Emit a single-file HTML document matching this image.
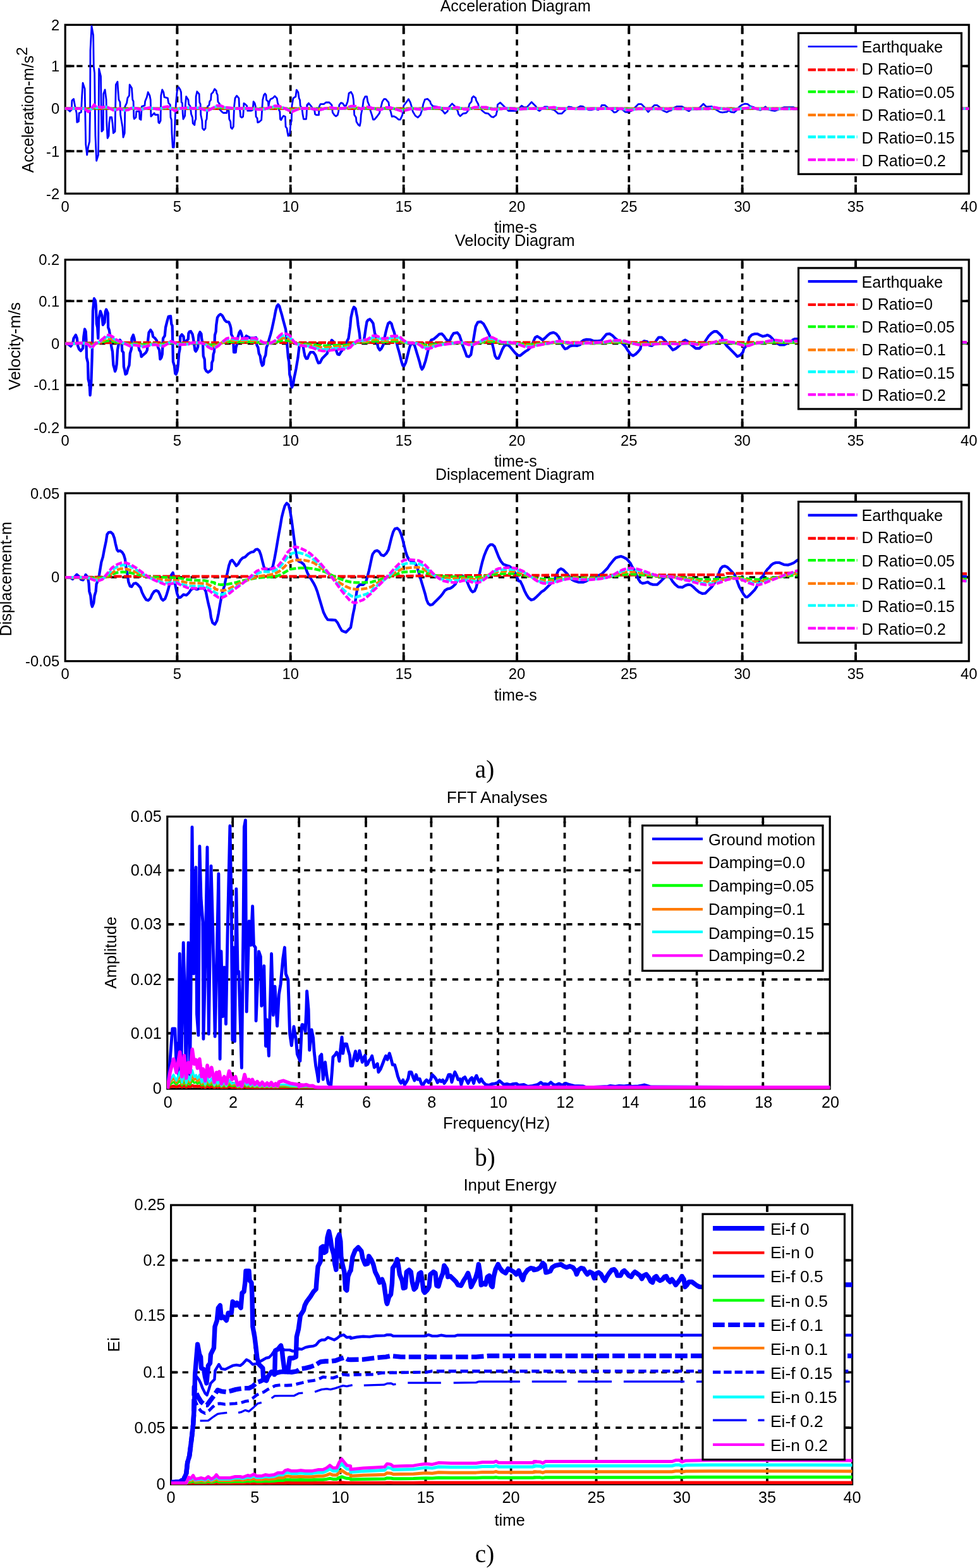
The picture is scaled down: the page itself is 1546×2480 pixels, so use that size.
<!DOCTYPE html>
<html lang="en">
<head>
<meta charset="utf-8">
<title>Seismic response diagrams</title>
<style>
html,body{margin:0;padding:0;background:#fff;}
body{width:1546px;height:2480px;overflow:hidden;}
svg{display:block;}
text{font-family:"Liberation Sans", Arial, Helvetica, sans-serif;fill:#000;}
.g{stroke:#000;stroke-width:3.7;fill:none;}
.t{stroke:#000;stroke-width:3.7;fill:none;}
.b{stroke:#000;stroke-width:3.2;fill:none;}
.lb{stroke:#000;stroke-width:3.2;fill:#fff;}
.sf{font-family:"Liberation Serif", "Times New Roman", serif;}
.cv polyline{fill:none;stroke-linejoin:round;stroke-linecap:butt;}
</style>
</head>
<body>
<svg width="1546" height="2480" viewBox="0 0 1546 2480" role="img" aria-label="Seismic response diagrams">
<rect width="1546" height="2480" fill="#fff"/>
<defs>
<clipPath id="ca1"><rect x="102.4" y="38.5" width="1431.6" height="268.5"/></clipPath>
<clipPath id="ca2"><rect x="102.4" y="410" width="1431.6" height="267.1"/></clipPath>
<clipPath id="ca3"><rect x="102.4" y="779.3" width="1431.6" height="267.2"/></clipPath>
<clipPath id="cb"><rect x="264" y="1290.7" width="1050" height="432.1"/></clipPath>
<clipPath id="cc"><rect x="269.8" y="1905.2" width="1079.6" height="443.2"/></clipPath>
</defs>
<g class="ax">
<line x1="280.4" y1="306.2" x2="280.4" y2="39.3" class="g" stroke-dasharray="9.3 8.74" stroke-dashoffset="0"/>
<line x1="459.7" y1="306.2" x2="459.7" y2="39.3" class="g" stroke-dasharray="9.3 8.74" stroke-dashoffset="0"/>
<line x1="638.7" y1="306.2" x2="638.7" y2="39.3" class="g" stroke-dasharray="9.3 8.74" stroke-dashoffset="0"/>
<line x1="818" y1="306.2" x2="818" y2="39.3" class="g" stroke-dasharray="9.3 8.74" stroke-dashoffset="0"/>
<line x1="995.3" y1="306.2" x2="995.3" y2="39.3" class="g" stroke-dasharray="9.3 8.74" stroke-dashoffset="0"/>
<line x1="1174.6" y1="306.2" x2="1174.6" y2="39.3" class="g" stroke-dasharray="9.3 8.74" stroke-dashoffset="0"/>
<line x1="1354" y1="306.2" x2="1354" y2="39.3" class="g" stroke-dasharray="9.3 8.74" stroke-dashoffset="0"/>
<line x1="103.2" y1="239.1" x2="1533.2" y2="239.1" class="g" stroke-dasharray="9.3 8.74" stroke-dashoffset="0"/>
<line x1="103.2" y1="171.7" x2="1533.2" y2="171.7" class="g" stroke-dasharray="9.3 8.74" stroke-dashoffset="0"/>
<line x1="103.2" y1="104.5" x2="1533.2" y2="104.5" class="g" stroke-dasharray="9.3 8.74" stroke-dashoffset="0"/>
</g>
<g class="fr">
<line x1="280.4" y1="306.2" x2="280.4" y2="291.9" class="t"/>
<line x1="280.4" y1="39.3" x2="280.4" y2="53.6" class="t"/>
<line x1="459.7" y1="306.2" x2="459.7" y2="291.9" class="t"/>
<line x1="459.7" y1="39.3" x2="459.7" y2="53.6" class="t"/>
<line x1="638.7" y1="306.2" x2="638.7" y2="291.9" class="t"/>
<line x1="638.7" y1="39.3" x2="638.7" y2="53.6" class="t"/>
<line x1="818" y1="306.2" x2="818" y2="291.9" class="t"/>
<line x1="818" y1="39.3" x2="818" y2="53.6" class="t"/>
<line x1="995.3" y1="306.2" x2="995.3" y2="291.9" class="t"/>
<line x1="995.3" y1="39.3" x2="995.3" y2="53.6" class="t"/>
<line x1="1174.6" y1="306.2" x2="1174.6" y2="291.9" class="t"/>
<line x1="1174.6" y1="39.3" x2="1174.6" y2="53.6" class="t"/>
<line x1="1354" y1="306.2" x2="1354" y2="291.9" class="t"/>
<line x1="1354" y1="39.3" x2="1354" y2="53.6" class="t"/>
<line x1="103.2" y1="239.1" x2="117.5" y2="239.1" class="t"/>
<line x1="1533.2" y1="239.1" x2="1518.9" y2="239.1" class="t"/>
<line x1="103.2" y1="171.7" x2="117.5" y2="171.7" class="t"/>
<line x1="1533.2" y1="171.7" x2="1518.9" y2="171.7" class="t"/>
<line x1="103.2" y1="104.5" x2="117.5" y2="104.5" class="t"/>
<line x1="1533.2" y1="104.5" x2="1518.9" y2="104.5" class="t"/>
<rect x="103.2" y="39.3" width="1430" height="266.9" class="b"/>
</g>
<g class="cv" clip-path="url(#ca1)">
<polyline points="102.65,171.58 107.94,173.57 110.58,176.21 113.23,173.57 113.89,159.02 116.53,156.37 118.52,166.95 121.16,178.86 121.83,193.41 124.47,192.08 125.13,178.86 128.44,177.53 129.76,151.08 131.08,131.24 134.13,140.5 134.66,168.28 135.71,227.8 137.7,244.99 139.68,231.77 141.67,223.83 142.59,168.28 142.99,79.65 144.97,41.29 147.62,55.84 148.28,104.78 149.6,115.37 150.26,168.28 150.93,214.57 152.65,254.25 155.56,244.99 156.22,168.28 156.61,108.75 159.52,120.66 160.19,168.28 160.85,207.96 163.23,205.31 163.76,148.43 166.14,141.82 168.12,157.69 168.78,194.73 170.11,218.54 172.09,214.57 172.75,194.73 174.07,185.47 176.72,185.47 178.04,194.73 179.37,210.6 182.01,207.96 182.67,168.28 183.33,133.88 185.98,129.25 186.64,140.5 187.96,157.69 189.95,161.66 190.61,181.5 193.92,201.34 194.97,217.22 197.22,210.6 197.88,168.28 200.53,162.98 201.85,155.05 204.5,151.08 205.16,133.88 208.47,139.17 209.79,157.69 211.11,160.34 211.77,185.47 212.43,188.12 215.08,185.47 215.74,176.21 220.37,176.21 221.03,188.12 223.02,189.44 224.34,168.28 228.97,166.95 229.63,160.34 232.28,153.72 234.26,145.79 236.9,151.08 238.23,157.69 238.89,184.15 244.18,178.86 245.5,181.5 250.13,181.5 250.79,193.41 252.12,194.73 254.1,190.76 254.76,151.08 256.75,141.82 258.73,145.79 260.05,153.72 265.34,155.05 266.67,162.98 269.31,165.63 269.97,185.47 271.3,189.44 271.96,210.6 273.28,233.09 275.26,233.09 275.93,218.54 277.25,184.15 278.57,161.66 280.56,140.5 282.54,137.85 285.19,141.82 286.51,145.79 287.17,161.66 288.49,162.98 289.15,178.86 289.81,186.79 290,188.43 292.65,183.14 293.31,165.95 294.63,152.72 297.94,158.01 298.6,164.62 301.24,168.59 302.57,180.5 304.55,185.79 305.21,195.05 307.86,197.69 308.52,191.08 309.84,188.43 310.11,152.72 311.83,144.78 315.13,148.75 315.79,161.98 317.12,164.62 317.78,181.82 319.76,191.08 320.42,202.98 322.8,205.63 325.05,202.98 325.71,191.08 327.04,188.43 328.36,168.59 331.01,165.95 331.67,160.66 333.65,158.01 334.31,148.75 336.96,146.11 339.6,140.81 342.25,143.46 342.91,147.43 344.23,150.07 344.89,160.66 347.54,164.62 348.2,173.88 352.17,177.85 353.49,178.51 358.78,178.51 359.44,173.88 362.09,175.21 362.75,188.43 364.74,192.4 365.4,201.66 367.38,203.65 369.37,200.34 370.03,181.82 370.69,167.27 372.01,155.37 374.66,151.4 377.96,155.37 378.62,168.59 379.95,176.53 380.61,184.47 382.59,185.79 384.58,184.47 385.24,176.53 385.9,163.3 387.88,164.62 390.53,167.27 391.85,175.21 397.14,175.21 399.79,173.88 400.45,168.59 401.11,160.66 403.1,163.3 404.42,168.59 405.08,184.47 407.06,187.11 407.72,193.72 409.71,193.06 413.68,189.76 414.34,179.17 415.66,158.01 417.65,150.07 419.37,148.09 420.95,150.07 421.61,158.01 424.26,160.66 424.92,168.59 426.24,160.66 428.23,156.69 431.53,155.37 434.84,152.06 438.15,155.37 439.47,163.3 440.79,165.95 441.46,173.88 442.78,176.53 443.44,188.43 444.76,189.76 446.75,185.79 448.73,183.14 451.38,184.47 452.04,200.34 454.02,202.98 454.68,208.28 456.01,214.89 458.65,210.92 459.97,195.05 461.3,191.08 461.96,167.27 463.94,155.37 467.91,152.72 469.23,142.14 471.88,146.11 473.2,155.37 474.52,158.01 475.19,167.27 477.83,171.24 479.15,181.82 480.48,188.43 484.44,188.43 485.11,181.82 485.77,165.95 488.41,163.3 485.95,167.27 488.6,163.3 491.9,167.27 494.55,171.24 497.86,175.21 498.52,180.5 500.5,181.82 504.47,181.82 505.13,168.59 507.12,164.62 512.41,164.62 515.71,161.98 521.01,161.98 524.97,165.95 526.3,177.85 528.94,181.82 531.59,183.8 534.23,181.82 535.56,176.53 536.88,165.95 539.52,162.64 542.17,163.3 544.81,167.27 547.46,167.27 550.11,160.66 552.09,147.43 555.4,145.44 558.04,150.07 559.37,158.01 560.69,181.82 563.33,185.79 563.99,192.4 567.3,197.69 569.29,199.02 570.61,192.4 571.27,181.82 573.92,168.59 575.24,158.01 577.88,152.72 580.53,152.72 581.85,160.66 584.5,167.27 585.82,173.88 588.47,181.82 590.45,189.1 592.43,189.1 596.4,184.47 600.37,179.17 603.02,168.59 605,160.66 607.65,156.69 610.29,156.69 614.92,161.98 616.24,171.24 618.23,176.53 620.21,184.47 622.86,183.8 626.83,185.79 630.79,189.1 633.44,189.1 636.75,181.82 638.73,167.27 642.7,161.98 646.4,156.69 649.31,161.98 651.3,168.59 653.28,176.53 657.25,183.14 661.22,185.79 665.19,181.82 667.83,173.88 669.81,164.62 670,163.87 672.48,157.26 676.61,156.43 680.75,160.56 681.57,163.87 684.88,168 691.49,168.83 696.46,172.14 700.59,175.44 703.9,179.58 708.03,176.27 709.68,170.48 715.47,163.87 721.26,169.66 724.56,176.27 725.39,180.4 728.2,183.71 732.83,179.58 737.79,178.75 740.27,175.44 742.75,164.7 746.06,160.56 746.88,154.78 749.37,152.3 752.67,154.78 753.5,158.91 756.81,164.7 757.63,169.66 762.59,174.62 767.55,178.75 772.51,179.58 777.47,184.54 780.78,185.37 784.91,182.06 786.57,175.44 787.39,165.52 791.53,162.22 795.66,166.35 800.62,171.31 804.76,175.44 815.5,175.44 818.81,173.79 822.94,169.66 825.42,167.18 828.73,169.66 833.69,169.66 841.13,161.39 847.74,168 851.05,173.79 853.53,175.44 858.49,171.31 861.8,168.83 865.93,168.83 870.07,172.14 876.68,173.79 883.29,179.58 889.08,179.58 894.87,173.79 899.83,168.83 904.79,169.66 909.75,172.14 910,172.14 914.96,169.66 918.27,168 922.4,168.5 926.53,171.31 931.49,173.79 936.46,173.79 941.42,172.14 946.38,173.79 950.51,170.48 952.16,166.35 957.12,166.35 962.91,171.31 967.87,173.79 972,177.92 975.31,177.1 979.44,172.96 984.4,172.96 989.37,177.1 992.67,177.43 999.29,175.44 1002.59,172.14 1005.07,169.66 1010.03,164.7 1014.99,164.7 1019.95,169.66 1025.74,177.1 1030.7,171.31 1035.66,166.35 1039.79,166.35 1043.93,169.66 1047.24,173.79 1050.54,175.44 1055.17,177.43 1058.81,175.44 1062.12,174.62 1066.25,170.48 1071.21,168.33 1078.65,168.33 1082.78,170.48 1086.09,173.79 1090.22,175.78 1093.53,172.96 1103.45,172.96 1107.59,169.66 1113.04,164.2 1117.51,168.83 1126.6,168.5 1130.73,172.14 1134.87,174.62 1139,177.1 1143.13,177.92 1148.1,177.1 1150,177.1 1153.31,174.62 1156.61,177.1 1161.57,177.92 1166.53,173.79 1169.84,168.83 1174.8,165.52 1178.94,164.2 1183.07,164.7 1187.2,168 1192.99,169.66 1197.95,172.96 1202.91,174.12 1207.04,172.14 1211.18,168.83 1215.31,172.96 1221.1,174.62 1226.06,175.44 1231.02,173.79 1235.98,171.31 1240.94,169.66 1255.82,169.66 1260.78,172.14 1269.05,172.14 1533.2,171.8" stroke="#0000ff" stroke-width="2.8"/>
<polyline points="103.2,171.8 1533.2,171.8" stroke="#ff0000" stroke-width="4.3" stroke-dasharray="12.4 3.0"/>
<polyline points="102.65,171.73 130.42,171.73 134.39,171.93 139.68,173.32 143.65,172.33 148.94,169.95 152.91,171.34 158.2,170.94 162.17,171.34 167.46,170.74 172.75,171.54 179.37,172.53 184.66,172.33 189.95,171.73 196.56,172.73 203.17,172.33 209.79,171.34 216.4,171.73 223.02,172.33 229.63,171.73 236.24,171.34 242.86,171.73 252.12,172.13 258.73,171.14 265.34,170.74 270.63,171.73 277.25,172.93 282.54,171.93 287.83,171.54 290,171.71 297.94,171.23 305.87,171.83 313.81,171.31 321.75,172.23 328.36,172.82 333.65,172.03 342.91,170.44 349.52,170.44 356.14,171.23 364.07,171.43 372.01,171.83 382.59,171.71 395.82,171.71 409.05,172.23 416.98,172.23 424.92,171.43 435.5,170.44 442.12,170.64 448.73,171.43 456.67,172.62 461.96,173.42 468.57,172.43 475.19,171.71 488.41,171.71 490.58,171.71 499.84,172.23 506.46,172.43 514.39,171.71 523.65,171.23 530.26,171.71 543.49,171.71 550.11,171.23 555.4,170.64 562.01,170.64 571.27,172.03 580.53,171.04 585.82,171.23 593.76,172.03 601.69,172.43 610.95,171.23 617.57,171.31 625.5,172.03 636.08,173.02 644.02,172.43 651.96,171.71 665.19,172.23 670,172.15 679.92,171.65 691.49,171.16 703.07,171.65 712.99,171.8 722.91,171.16 736.14,172.15 741.1,172.15 751.02,171.16 759.29,171.16 769.21,171.16 779.13,172.15 789.05,172.15 798.97,171.65 808.89,171.65 818.81,172.15 828.73,171.9 843.61,171.8 855.19,171.8 876.68,171.16 884.95,171.8 909.75,171.8 910,171.9 984.4,171.8 992.67,172.4 999.29,172.5 1009.21,171.9 1121.64,171.9 1129.91,171.16 1138.17,171.65 1144.79,172 1149.75,172 1150,172 1156.61,172.4 1164.88,172.15 1174.8,171.8 1188.03,171.31 1197.95,171.9 1269.05,171.9 1533.2,171.8" stroke="#00ff00" stroke-width="4.3" stroke-dasharray="12.4 3.0" stroke-dashoffset="3"/>
<polyline points="102.65,171.68 130.42,171.68 134.39,172.04 139.68,174.59 143.65,172.77 148.94,168.41 152.91,170.95 158.2,170.23 162.17,170.95 167.46,169.86 172.75,171.32 179.37,173.14 184.66,172.77 189.95,171.68 196.56,173.5 203.17,172.77 209.79,170.95 216.4,171.68 223.02,172.77 229.63,171.68 236.24,170.95 242.86,171.68 252.12,172.41 258.73,170.59 265.34,169.86 270.63,171.68 277.25,173.86 282.54,172.04 287.83,171.32 290,171.64 297.94,170.76 305.87,171.85 313.81,170.91 321.75,172.58 328.36,173.67 333.65,172.22 342.91,169.31 349.52,169.31 356.14,170.76 364.07,171.13 372.01,171.85 382.59,171.64 395.82,171.64 409.05,172.58 416.98,172.58 424.92,171.13 435.5,169.31 442.12,169.67 448.73,171.13 456.67,173.31 461.96,174.76 468.57,172.95 475.19,171.64 488.41,171.64 490.58,171.64 499.84,172.58 506.46,172.95 514.39,171.64 523.65,170.76 530.26,171.64 543.49,171.64 550.11,170.76 555.4,169.67 562.01,169.67 571.27,172.22 580.53,170.4 585.82,170.76 593.76,172.22 601.69,172.95 610.95,170.76 617.57,170.91 625.5,172.22 636.08,174.04 644.02,172.95 651.96,171.64 665.19,172.58 670,172.44 679.92,171.53 691.49,170.62 703.07,171.53 712.99,171.8 722.91,170.62 736.14,172.44 741.1,172.44 751.02,170.62 759.29,170.62 769.21,170.62 779.13,172.44 789.05,172.44 798.97,171.53 808.89,171.53 818.81,172.44 828.73,171.99 843.61,171.8 855.19,171.8 876.68,170.62 884.95,171.8 909.75,171.8 910,171.99 984.4,171.8 992.67,172.9 999.29,173.08 1009.21,171.99 1121.64,171.99 1129.91,170.62 1138.17,171.53 1144.79,172.17 1149.75,172.17 1150,172.17 1156.61,172.9 1164.88,172.44 1174.8,171.8 1188.03,170.89 1197.95,171.99 1269.05,171.99 1533.2,171.8" stroke="#ff7a00" stroke-width="4.3" stroke-dasharray="12.4 3.0" stroke-dashoffset="6"/>
<polyline points="102.65,171.63 130.42,171.63 134.39,172.15 139.68,175.86 143.65,173.21 148.94,166.86 152.91,170.57 158.2,169.51 162.17,170.57 167.46,168.98 172.75,171.1 179.37,173.74 184.66,173.21 189.95,171.63 196.56,174.27 203.17,173.21 209.79,170.57 216.4,171.63 223.02,173.21 229.63,171.63 236.24,170.57 242.86,171.63 252.12,172.68 258.73,170.04 265.34,168.98 270.63,171.63 277.25,174.8 282.54,172.15 287.83,171.1 290,171.56 297.94,170.29 305.87,171.88 313.81,170.5 321.75,172.94 328.36,174.53 333.65,172.41 342.91,168.18 349.52,168.18 356.14,170.29 364.07,170.82 372.01,171.88 382.59,171.56 395.82,171.56 409.05,172.94 416.98,172.94 424.92,170.82 435.5,168.18 442.12,168.7 448.73,170.82 456.67,174 461.96,176.11 468.57,173.47 475.19,171.56 488.41,171.56 490.58,171.56 499.84,172.94 506.46,173.47 514.39,171.56 523.65,170.29 530.26,171.56 543.49,171.56 550.11,170.29 555.4,168.7 562.01,168.7 571.27,172.41 580.53,169.76 585.82,170.29 593.76,172.41 601.69,173.47 610.95,170.29 617.57,170.5 625.5,172.41 636.08,175.05 644.02,173.47 651.96,171.56 665.19,172.94 670,172.73 679.92,171.41 691.49,170.09 703.07,171.41 712.99,171.81 722.91,170.09 736.14,172.73 741.1,172.73 751.02,170.09 759.29,170.09 769.21,170.09 779.13,172.73 789.05,172.73 798.97,171.41 808.89,171.41 818.81,172.73 828.73,172.07 843.61,171.81 855.19,171.81 876.68,170.09 884.95,171.81 909.75,171.81 910,172.07 984.4,171.81 992.67,173.39 999.29,173.66 1009.21,172.07 1121.64,172.07 1129.91,170.09 1138.17,171.41 1144.79,172.33 1149.75,172.33 1150,172.33 1156.61,173.39 1164.88,172.73 1174.8,171.81 1188.03,170.48 1197.95,172.07 1269.05,172.07 1533.2,171.8" stroke="#00ffff" stroke-width="4.3" stroke-dasharray="12.4 3.0" stroke-dashoffset="10"/>
<polyline points="102.65,171.58 130.42,171.58 134.39,172.24 139.68,176.87 143.65,173.57 148.94,165.63 152.91,170.26 158.2,168.94 162.17,170.26 167.46,168.28 172.75,170.92 179.37,174.23 184.66,173.57 189.95,171.58 196.56,174.89 203.17,173.57 209.79,170.26 216.4,171.58 223.02,173.57 229.63,171.58 236.24,170.26 242.86,171.58 252.12,172.9 258.73,169.6 265.34,168.28 270.63,171.58 277.25,175.55 282.54,172.24 287.83,170.92 290,171.5 297.94,169.92 305.87,171.9 313.81,170.18 321.75,173.22 328.36,175.21 333.65,172.56 342.91,167.27 349.52,167.27 356.14,169.92 364.07,170.58 372.01,171.9 382.59,171.5 395.82,171.5 409.05,173.22 416.98,173.22 424.92,170.58 435.5,167.27 442.12,167.93 448.73,170.58 456.67,174.54 461.96,177.19 468.57,173.88 475.19,171.5 488.41,171.5 490.58,171.5 499.84,173.22 506.46,173.88 514.39,171.5 523.65,169.92 530.26,171.5 543.49,171.5 550.11,169.92 555.4,167.93 562.01,167.93 571.27,172.56 580.53,169.25 585.82,169.92 593.76,172.56 601.69,173.88 610.95,169.92 617.57,170.18 625.5,172.56 636.08,175.87 644.02,173.88 651.96,171.5 665.19,173.22 670,172.96 679.92,171.31 691.49,169.66 703.07,171.31 712.99,171.81 722.91,169.66 736.14,172.96 741.1,172.96 751.02,169.66 759.29,169.66 769.21,169.66 779.13,172.96 789.05,172.96 798.97,171.31 808.89,171.31 818.81,172.96 828.73,172.14 843.61,171.81 855.19,171.81 876.68,169.66 884.95,171.81 909.75,171.81 910,172.14 984.4,171.81 992.67,173.79 999.29,174.12 1009.21,172.14 1121.64,172.14 1129.91,169.66 1138.17,171.31 1144.79,172.47 1149.75,172.47 1150,172.47 1156.61,173.79 1164.88,172.96 1174.8,171.81 1188.03,170.15 1197.95,172.14 1269.05,172.14 1533.2,171.8" stroke="#ff00ff" stroke-width="4.3" stroke-dasharray="12.4 3.0"/>
</g>
<g class="tl">
<text x="103.2" y="334.9" font-size="23.78" text-anchor="middle">0</text>
<text x="280.4" y="334.9" font-size="23.78" text-anchor="middle">5</text>
<text x="459.7" y="334.9" font-size="23.78" text-anchor="middle">10</text>
<text x="638.7" y="334.9" font-size="23.78" text-anchor="middle">15</text>
<text x="818" y="334.9" font-size="23.78" text-anchor="middle">20</text>
<text x="995.3" y="334.9" font-size="23.78" text-anchor="middle">25</text>
<text x="1174.6" y="334.9" font-size="23.78" text-anchor="middle">30</text>
<text x="1354" y="334.9" font-size="23.78" text-anchor="middle">35</text>
<text x="1533.2" y="334.9" font-size="23.78" text-anchor="middle">40</text>
<text x="94.2" y="314.6" font-size="23.78" text-anchor="end">-2</text>
<text x="94.2" y="247.5" font-size="23.78" text-anchor="end">-1</text>
<text x="94.2" y="180.1" font-size="23.78" text-anchor="end">0</text>
<text x="94.2" y="112.9" font-size="23.78" text-anchor="end">1</text>
<text x="94.2" y="47.7" font-size="23.78" text-anchor="end">2</text>
</g>
<text x="815.7" y="17.8" font-size="24.9" text-anchor="middle">Acceleration Diagram</text>
<text x="815.8" y="368.3" font-size="24.9" text-anchor="middle">time-s</text>
<text x="53" y="173.75" font-size="24.9" text-anchor="middle" transform="rotate(-90 53 173.75)">Acceleration-m/s<tspan dy="-10.5" font-size="24.5">2</tspan></text>
<g class="lg">
<rect x="1263.5" y="52.4" width="257.9" height="223" class="lb"/>
<line x1="1278.6" y1="73.7" x2="1356.6" y2="73.7" stroke="#0000ff" stroke-width="2.8"/>
<text x="1363.6" y="83.1" font-size="25.1" text-anchor="start">Earthquake</text>
<line x1="1278.6" y1="110.4" x2="1356.6" y2="110.4" stroke="#ff0000" stroke-width="4.3" stroke-dasharray="12.4 3.0"/>
<text x="1363.6" y="118.2" font-size="25.1" text-anchor="start">D Ratio=0</text>
<line x1="1278.6" y1="145.1" x2="1356.6" y2="145.1" stroke="#00ff00" stroke-width="4.3" stroke-dasharray="12.4 3.0"/>
<text x="1363.6" y="154.5" font-size="25.1" text-anchor="start">D Ratio=0.05</text>
<line x1="1278.6" y1="181.8" x2="1356.6" y2="181.8" stroke="#ff7a00" stroke-width="4.3" stroke-dasharray="12.4 3.0"/>
<text x="1363.6" y="190.6" font-size="25.1" text-anchor="start">D Ratio=0.1</text>
<line x1="1278.6" y1="216.5" x2="1356.6" y2="216.5" stroke="#00ffff" stroke-width="4.3" stroke-dasharray="12.4 3.0"/>
<text x="1363.6" y="227.3" font-size="25.1" text-anchor="start">D Ratio=0.15</text>
<line x1="1278.6" y1="252.6" x2="1356.6" y2="252.6" stroke="#ff00ff" stroke-width="4.3" stroke-dasharray="12.4 3.0"/>
<text x="1363.6" y="262.6" font-size="25.1" text-anchor="start">D Ratio=0.2</text>
</g>
<g class="ax">
<line x1="280.4" y1="676.3" x2="280.4" y2="410.8" class="g" stroke-dasharray="9.3 8.74" stroke-dashoffset="0"/>
<line x1="459.7" y1="676.3" x2="459.7" y2="410.8" class="g" stroke-dasharray="9.3 8.74" stroke-dashoffset="0"/>
<line x1="638.7" y1="676.3" x2="638.7" y2="410.8" class="g" stroke-dasharray="9.3 8.74" stroke-dashoffset="0"/>
<line x1="818" y1="676.3" x2="818" y2="410.8" class="g" stroke-dasharray="9.3 8.74" stroke-dashoffset="0"/>
<line x1="995.3" y1="676.3" x2="995.3" y2="410.8" class="g" stroke-dasharray="9.3 8.74" stroke-dashoffset="0"/>
<line x1="1174.6" y1="676.3" x2="1174.6" y2="410.8" class="g" stroke-dasharray="9.3 8.74" stroke-dashoffset="0"/>
<line x1="1354" y1="676.3" x2="1354" y2="410.8" class="g" stroke-dasharray="9.3 8.74" stroke-dashoffset="0"/>
<line x1="103.2" y1="608.9" x2="1533.2" y2="608.9" class="g" stroke-dasharray="9.3 8.74" stroke-dashoffset="0"/>
<line x1="103.2" y1="543.3" x2="1533.2" y2="543.3" class="g" stroke-dasharray="9.3 8.74" stroke-dashoffset="0"/>
<line x1="103.2" y1="476.2" x2="1533.2" y2="476.2" class="g" stroke-dasharray="9.3 8.74" stroke-dashoffset="0"/>
</g>
<g class="fr">
<line x1="280.4" y1="676.3" x2="280.4" y2="662" class="t"/>
<line x1="280.4" y1="410.8" x2="280.4" y2="425.1" class="t"/>
<line x1="459.7" y1="676.3" x2="459.7" y2="662" class="t"/>
<line x1="459.7" y1="410.8" x2="459.7" y2="425.1" class="t"/>
<line x1="638.7" y1="676.3" x2="638.7" y2="662" class="t"/>
<line x1="638.7" y1="410.8" x2="638.7" y2="425.1" class="t"/>
<line x1="818" y1="676.3" x2="818" y2="662" class="t"/>
<line x1="818" y1="410.8" x2="818" y2="425.1" class="t"/>
<line x1="995.3" y1="676.3" x2="995.3" y2="662" class="t"/>
<line x1="995.3" y1="410.8" x2="995.3" y2="425.1" class="t"/>
<line x1="1174.6" y1="676.3" x2="1174.6" y2="662" class="t"/>
<line x1="1174.6" y1="410.8" x2="1174.6" y2="425.1" class="t"/>
<line x1="1354" y1="676.3" x2="1354" y2="662" class="t"/>
<line x1="1354" y1="410.8" x2="1354" y2="425.1" class="t"/>
<line x1="103.2" y1="608.9" x2="117.5" y2="608.9" class="t"/>
<line x1="1533.2" y1="608.9" x2="1518.9" y2="608.9" class="t"/>
<line x1="103.2" y1="543.3" x2="117.5" y2="543.3" class="t"/>
<line x1="1533.2" y1="543.3" x2="1518.9" y2="543.3" class="t"/>
<line x1="103.2" y1="476.2" x2="117.5" y2="476.2" class="t"/>
<line x1="1533.2" y1="476.2" x2="1518.9" y2="476.2" class="t"/>
<rect x="103.2" y="410.8" width="1430" height="265.5" class="b"/>
</g>
<g class="cv" clip-path="url(#ca2)">
<polyline points="103.31,543.68 107.94,544.34 111.9,547.65 115.21,543.02 116.53,535.08 119.84,529.79 121.83,535.08 123.15,546.98 125.13,552.28 127.78,554.92 131.08,550.95 132.41,532.43 134.13,520.53 135.71,524.5 136.38,536.4 137.04,565.5 139.02,573.44 139.68,599.89 141.67,607.83 142.59,625.03 144.31,605.19 145.63,565.5 146.3,536.4 146.96,491.43 148.94,472.25 150.93,475.56 151.85,484.81 152.91,512.59 154.23,517.88 155.29,535.08 156.22,504.66 158.86,492.09 161.51,499.37 162.83,513.92 165.48,509.95 166.8,492.75 168.12,489.44 170.77,495.4 171.16,517.88 172.75,521.85 174.07,529.79 176.06,546.98 178.04,556.24 179.37,577.41 180.95,582.7 182.01,587.33 183.33,584.02 184.66,576.08 185.98,553.6 187.96,543.02 189.95,537.72 192.59,543.02 193.25,554.92 195.24,557.57 195.9,580.05 197.22,585.34 198.54,591.96 200.53,590.63 202.51,582.7 204.5,577.41 205.82,558.89 207.8,552.28 208.47,535.08 210.85,529.79 212.43,535.08 213.76,543.02 219.05,546.98 220.37,553.6 222.35,556.24 223.68,564.18 226.32,561.53 230.95,557.57 232.94,553.6 233.6,543.02 235.58,525.82 238.23,521.85 240.87,525.82 242.2,532.43 245.5,535.08 248.15,539.05 250.13,549.63 252.12,553.6 253.44,568.15 255.42,565.5 256.75,560.21 258.07,535.08 260.71,531.11 262.04,517.88 264.68,507.3 266.67,500.69 269.97,500.03 271.3,512.59 272.62,515.24 273.28,543.02 273.94,572.12 275.93,578.73 277.25,590.63 278.57,591.96 280.56,586.67 281.88,576.08 283.2,558.89 284.52,552.28 285.19,532.43 287.83,529.13 290.48,532.43 291.14,539.05 293.78,540.37 297.75,536.4 298.41,527.14 299.92,524.66 301.9,523.99 304.55,528.62 305.87,535.24 307.2,544.5 308.52,553.76 309.84,555.74 311.83,552.43 313.15,548.47 314.47,529.95 316.46,525.32 318.44,527.96 319.1,535.24 321.08,545.82 321.75,563.02 323.73,568.31 324.39,582.86 326.38,586.83 329.02,588.81 332.33,586.83 334.71,584.18 335.24,573.6 336.96,569.63 337.62,560.37 338.94,556.4 340,529.95 341.59,524.66 342.25,514.07 343.97,502.17 346.22,498.86 348.86,496.88 351.51,498.86 353.49,502.17 355.48,506.14 358.12,508.78 362.09,509.44 364.07,514.07 365.4,519.37 366.06,528.62 368.04,532.59 369.37,541.85 370.03,557.06 372.67,557.06 373.33,549.79 375.32,543.17 376.64,532.59 378.62,525.98 380.34,523.33 381.93,527.3 383.25,532.59 383.92,541.85 386.56,541.85 387.88,533.92 389.87,531.27 393.17,533.25 395.82,534.58 402.43,534.58 405.08,533.92 406.4,545.82 408.39,549.79 409.71,559.05 411.69,563.02 413.02,572.28 415,578.23 416.98,576.24 418.04,566.98 420.29,561.69 421.61,549.79 423.6,544.5 426.24,535.24 428.23,528.62 430.21,520.69 432.2,511.43 434.18,502.17 436.16,491.59 438.15,484.31 440.13,481.67 442.12,484.31 444.1,491.59 446.08,498.2 448.07,506.14 450.05,513.41 452.04,520.69 453.36,532.59 454.68,549.79 456.01,565.66 457.33,572.28 458.25,592.12 459.97,598.73 460.63,607.99 461.96,612.62 463.94,607.99 465.26,598.73 467.25,589.47 468.57,582.86 469.89,574.92 471.48,565.66 472.54,556.4 473.86,545.82 477.83,544.5 479.81,548.47 481.14,556.4 482.46,563.02 484.44,566.98 486.61,566.98 488.6,561.69 491.24,557.06 495.87,557.06 499.18,561.69 501.83,569.63 503.81,574.26 506.46,573.6 509.76,566.98 513.73,563.02 517.7,559.05 519.68,552.43 522.33,544.5 524.97,537.88 527.62,540.53 529.6,545.82 532.25,555.08 534.23,560.37 536.88,561.03 539.52,556.4 542.83,552.43 546.14,545.82 548.78,540.53 551.43,535.24 552.75,525.98 554.07,516.72 555.4,502.17 558.04,490.26 560.03,485.63 562.67,488.28 563.99,495.56 565.32,502.17 566.64,514.07 568.62,525.98 569.95,537.88 572.59,540.53 575.9,537.88 577.22,529.95 578.54,520.69 580.53,508.78 582.51,506.14 585.16,504.81 587.8,507.46 590.45,511.43 591.77,519.37 593.1,527.3 595.08,532.59 596.4,541.85 598.39,549.79 601.03,553.76 603.68,551.11 606.32,545.82 608.31,535.24 610.29,525.98 612.28,518.04 614.26,511.43 616.9,509.44 619.55,512.09 621.53,519.37 623.52,524.66 625.5,532.59 627.49,541.85 629.47,549.79 631.46,556.4 633.44,564.34 635.42,572.28 637.41,578.23 639.39,578.89 642.04,573.6 644.02,565.66 646.01,557.72 647.99,549.79 649.97,544.5 653.28,543.17 655.93,545.82 657.91,552.43 659.89,559.05 661.88,565.66 663.86,572.28 665.85,580.21 667.83,584.18 670,580.78 673.31,570.86 676.61,557.63 679.92,542.75 682.4,537.79 686.53,536.14 691.49,532 694.8,528.7 698.94,527.87 702.24,531.18 705.55,536.14 708.86,539.44 712.16,537.79 714.64,532 717.95,527.04 723.74,526.22 727.04,530.35 729.52,537.79 732,546.06 735.31,554.33 738.62,563.42 741.92,564.25 745.23,560.94 746.88,551.02 749.37,536.14 751.02,526.22 752.67,516.3 755.98,509.68 760.94,508.86 765.07,512.16 768.38,517.95 771.69,524.56 774.99,531.18 778.3,541.1 780.78,551.02 783.26,562.59 785.74,566.73 789.05,566.73 791.53,560.94 794.83,552.67 798.14,546.88 802.28,545.23 806.41,547.71 810.54,552.67 814.68,557.63 818.81,561.77 822.94,562.59 827.08,559.29 831.21,555.98 835.34,553.5 839.48,549.37 843.61,541.1 846.92,533.66 850.22,532 854.36,534.48 858.49,537.79 862.63,534.48 866.76,530.35 870.89,527.04 875.85,525.89 879.99,527.87 884.12,532.83 887.43,541.1 890.73,547.71 894.04,551.85 897.35,551.02 901.48,547.71 906.44,546.39 913.06,546.88 918.02,545.23 918.27,541.92 923.23,538.12 928.19,536.96 934.8,537.46 939.76,539.44 946.38,539.44 951.34,538.62 955.47,533.66 959.6,528.7 964.56,527.87 968.7,530.35 973.66,535.31 979.44,539.44 984.4,542.75 989.37,547.71 993.5,554.33 997.63,560.11 1001.77,562.59 1005.9,560.11 1010.03,555.98 1013.34,551.85 1014.99,542.75 1019.13,539.44 1024.09,540.27 1027.39,546.06 1031.53,546.88 1035.66,543.58 1038.97,537.79 1042.28,533.66 1047.24,533.66 1052.2,538.62 1057.16,544.4 1061.29,549.37 1064.6,553.5 1068.73,551.85 1072.86,548.54 1077,544.4 1081.13,539.44 1084.44,537.79 1088.57,540.27 1092.71,544.4 1096.84,547.71 1100.97,551.02 1106.76,551.02 1110.89,546.88 1115.03,541.1 1118.33,536.14 1121.64,531.18 1125.77,527.04 1129.91,524.23 1134.04,524.23 1138.17,527.87 1142.31,532 1143.96,539.44 1148.1,544.4 1150,546.88 1154.96,551.85 1159.92,556.81 1164.05,560.94 1166.53,563.92 1171.49,561.77 1175.63,556.81 1177.28,551.02 1180.59,547.71 1183.9,541.1 1185.55,533.66 1189.68,529.52 1193.82,528.2 1198.78,528.2 1202.91,530.35 1207.04,532 1211.18,531.18 1214.48,529.85 1218.62,532 1221.92,535.31 1225.23,539.44 1229.37,542.75 1233.5,545.23 1240.94,545.23 1245.9,542.75 1250.86,541.1 1254.17,537.79 1257.47,536.14 1265.74,536.14 1400,541 1530,541.5" stroke="#0000ff" stroke-width="4.3"/>
<polyline points="103.2,543 180,542 1530,541.5" stroke="#ff0000" stroke-width="4.3" stroke-dasharray="12.4 3.0"/>
<polyline points="103.31,543.2 117.2,543.2 126.46,542.81 134.39,543 139.68,543.6 144.97,545.39 150.26,543.4 156.88,542.21 163.49,540.62 168.78,539.23 172.75,539.04 178.04,539.83 184.66,541.42 192.59,542.41 200.53,543.6 205.82,544.39 212.43,543.8 219.05,544.2 225.66,544.79 232.28,544.39 238.89,543.8 245.5,543.6 252.12,544.2 258.73,544.39 265.34,543.2 270.63,542.01 275.93,542.61 281.22,543.6 287.83,543.6 298.41,543.4 300.58,542.97 305.87,542.66 316.46,542.66 324.39,543.45 329.68,544.84 334.97,545.63 340.26,545.23 345.56,544.24 352.17,542.26 358.78,540.67 365.4,540.27 372.01,540.75 382.59,540.75 393.17,540.67 403.76,540.59 409.05,541.27 415.66,542.46 422.28,543.05 428.89,542.85 435.5,541.66 442.12,539.48 446.08,538.49 452.7,538.49 457.99,539.08 463.28,541.47 468.57,543.25 475.19,544.04 481.8,544.24 487.94,544.64 495.87,545.23 503.81,546.23 510.42,546.62 518.36,546.62 524.97,546.23 530.26,546.03 536.88,545.83 546.14,545.83 554.07,545.04 560.69,542.85 565.98,541.66 572.59,541.47 580.53,541.27 585.82,540.27 589.79,539.48 596.4,539.48 601.69,540.27 606.98,540.87 613.6,540.47 618.89,539.68 625.5,539.48 632.12,539.68 637.41,541.27 644.02,542.66 651.96,542.85 659.89,543.05 665.19,544.04 669.15,545.04 670,545.41 676.61,545.65 683.23,545.16 691.49,544.17 703.07,543.52 712.99,543.17 724.56,542.43 732.83,542.68 741.1,543.67 749.37,543.67 757.63,542.43 765.9,540.94 772.51,540.2 779.13,540.2 785.74,541.19 794.01,542.43 805.58,542.53 815.5,542.93 823.77,543.92 832.04,544.81 840.3,544.91 848.57,544.17 856.84,543.67 868.41,542.93 878.33,542.18 886.6,541.93 896.52,542.53 908.1,542.93 918.02,542.68 919.92,543.02 926.53,542.93 943.07,542.68 956.3,542.43 967.87,541.69 979.44,541.54 989.37,541.93 999.29,542.93 1009.21,543.67 1022.43,543.67 1035.66,543.42 1048.89,543.17 1062.12,543.17 1075.34,543.42 1085.26,542.93 1095.19,543.17 1105.11,543.67 1115.03,543.67 1124.95,542.93 1134.87,541.93 1144.79,541.44 1149.75,541.54 1150,542.18 1159.92,542.53 1169.84,543.42 1178.11,544.31 1184.72,544.17 1192.99,543.17 1202.91,542.68 1211.18,542.18 1219.44,541.69 1227.71,541.44 1237.63,541.83 1249.21,541.93 1265.74,541.93 1530,542.55" stroke="#00ff00" stroke-width="4.3" stroke-dasharray="12.4 3.0" stroke-dashoffset="3"/>
<polyline points="103.31,543.37 117.2,543.37 126.46,542.64 134.39,543.01 139.68,544.1 144.97,547.37 150.26,543.74 156.88,541.55 163.49,538.64 168.78,536.1 172.75,535.73 178.04,537.19 184.66,540.1 192.59,541.92 200.53,544.1 205.82,545.56 212.43,544.46 219.05,545.19 225.66,546.28 232.28,545.56 238.89,544.46 245.5,544.1 252.12,545.19 258.73,545.56 265.34,543.37 270.63,541.19 275.93,542.28 281.22,544.1 287.83,544.1 298.41,543.74 300.58,542.95 305.87,542.37 316.46,542.37 324.39,543.82 329.68,546.37 334.97,547.82 340.26,547.1 345.56,545.28 352.17,541.64 358.78,538.73 365.4,538 372.01,538.88 382.59,538.88 393.17,538.73 403.76,538.59 409.05,539.82 415.66,542 422.28,543.1 428.89,542.73 435.5,540.55 442.12,536.55 446.08,534.73 452.7,534.73 457.99,535.82 463.28,540.19 468.57,543.46 475.19,544.91 481.8,545.28 487.94,546.01 495.87,547.1 503.81,548.92 510.42,549.64 518.36,549.64 524.97,548.92 530.26,548.55 536.88,548.19 546.14,548.19 554.07,546.73 560.69,542.73 565.98,540.55 572.59,540.19 580.53,539.82 585.82,538 589.79,536.55 596.4,536.55 601.69,538 606.98,539.09 613.6,538.37 618.89,536.91 625.5,536.55 632.12,536.91 637.41,539.82 644.02,542.37 651.96,542.73 659.89,543.1 665.19,544.91 669.15,546.73 670,547.41 676.61,547.86 683.23,546.96 691.49,545.14 703.07,543.95 712.99,543.32 724.56,541.95 732.83,542.41 741.1,544.23 749.37,544.23 757.63,541.95 765.9,539.23 772.51,537.86 779.13,537.86 785.74,539.68 794.01,541.95 805.58,542.14 815.5,542.86 823.77,544.68 832.04,546.32 840.3,546.5 848.57,545.14 856.84,544.23 868.41,542.86 878.33,541.5 886.6,541.04 896.52,542.14 908.1,542.86 918.02,542.41 919.92,543.05 926.53,542.86 943.07,542.41 956.3,541.95 967.87,540.59 979.44,540.32 989.37,541.04 999.29,542.86 1009.21,544.23 1022.43,544.23 1035.66,543.77 1048.89,543.32 1062.12,543.32 1075.34,543.77 1085.26,542.86 1095.19,543.32 1105.11,544.23 1115.03,544.23 1124.95,542.86 1134.87,541.04 1144.79,540.14 1149.75,540.32 1150,541.5 1159.92,542.14 1169.84,543.77 1178.11,545.41 1184.72,545.14 1192.99,543.32 1202.91,542.41 1211.18,541.5 1219.44,540.59 1227.71,540.14 1237.63,540.86 1249.21,541.04 1265.74,541.04 1530,542.17" stroke="#ff7a00" stroke-width="4.3" stroke-dasharray="12.4 3.0" stroke-dashoffset="6"/>
<polyline points="103.31,543.54 117.2,543.54 126.46,542.48 134.39,543.01 139.68,544.6 144.97,549.36 150.26,544.07 156.88,540.9 163.49,536.66 168.78,532.96 172.75,532.43 178.04,534.55 184.66,538.78 192.59,541.43 200.53,544.6 205.82,546.72 212.43,545.13 219.05,546.19 225.66,547.77 232.28,546.72 238.89,545.13 245.5,544.6 252.12,546.19 258.73,546.72 265.34,543.54 270.63,540.37 275.93,541.95 281.22,544.6 287.83,544.6 298.41,544.07 300.58,542.93 305.87,542.08 316.46,542.08 324.39,544.2 329.68,547.9 334.97,550.02 340.26,548.96 345.56,546.31 352.17,541.02 358.78,536.79 365.4,535.73 372.01,537 382.59,537 393.17,536.79 403.76,536.58 409.05,538.38 415.66,541.55 422.28,543.14 428.89,542.61 435.5,539.44 442.12,533.62 446.08,530.97 452.7,530.97 457.99,532.56 463.28,538.91 468.57,543.67 475.19,545.79 481.8,546.31 487.94,547.37 495.87,548.96 503.81,551.61 510.42,552.66 518.36,552.66 524.97,551.61 530.26,551.08 536.88,550.55 546.14,550.55 554.07,548.43 560.69,542.61 565.98,539.44 572.59,538.91 580.53,538.38 585.82,535.73 589.79,533.62 596.4,533.62 601.69,535.73 606.98,537.32 613.6,536.26 618.89,534.14 625.5,533.62 632.12,534.14 637.41,538.38 644.02,542.08 651.96,542.61 659.89,543.14 665.19,545.79 669.15,548.43 670,549.41 676.61,550.08 683.23,548.75 691.49,546.11 703.07,544.39 712.99,543.46 724.56,541.48 732.83,542.14 741.1,544.79 749.37,544.79 757.63,541.48 765.9,537.51 772.51,535.53 779.13,535.53 785.74,538.17 794.01,541.48 805.58,541.74 815.5,542.8 823.77,545.45 832.04,547.83 840.3,548.09 848.57,546.11 856.84,544.79 868.41,542.8 878.33,540.82 886.6,540.16 896.52,541.74 908.1,542.8 918.02,542.14 919.92,543.07 926.53,542.8 943.07,542.14 956.3,541.48 967.87,539.49 979.44,539.1 989.37,540.16 999.29,542.8 1009.21,544.79 1022.43,544.79 1035.66,544.12 1048.89,543.46 1062.12,543.46 1075.34,544.12 1085.26,542.8 1095.19,543.46 1105.11,544.79 1115.03,544.79 1124.95,542.8 1134.87,540.16 1144.79,538.83 1149.75,539.1 1150,540.82 1159.92,541.74 1169.84,544.12 1178.11,546.5 1184.72,546.11 1192.99,543.46 1202.91,542.14 1211.18,540.82 1219.44,539.49 1227.71,538.83 1237.63,539.89 1249.21,540.16 1265.74,540.16 1530,541.8" stroke="#00ffff" stroke-width="4.3" stroke-dasharray="12.4 3.0" stroke-dashoffset="10"/>
<polyline points="103.31,543.68 117.2,543.68 126.46,542.35 134.39,543.02 139.68,545 144.97,550.95 150.26,544.34 156.88,540.37 163.49,535.08 168.78,530.45 172.75,529.79 178.04,532.43 184.66,537.72 192.59,541.03 200.53,545 205.82,547.65 212.43,545.66 219.05,546.98 225.66,548.97 232.28,547.65 238.89,545.66 245.5,545 252.12,546.98 258.73,547.65 265.34,543.68 270.63,539.71 275.93,541.69 281.22,545 287.83,545 298.41,544.34 300.58,542.91 305.87,541.85 316.46,541.85 324.39,544.5 329.68,549.13 334.97,551.77 340.26,550.45 345.56,547.14 352.17,540.53 358.78,535.24 365.4,533.92 372.01,535.5 382.59,535.5 393.17,535.24 403.76,534.97 409.05,537.22 415.66,541.19 422.28,543.17 428.89,542.51 435.5,538.54 442.12,531.27 446.08,527.96 452.7,527.96 457.99,529.95 463.28,537.88 468.57,543.84 475.19,546.48 481.8,547.14 487.94,548.47 495.87,550.45 503.81,553.76 510.42,555.08 518.36,555.08 524.97,553.76 530.26,553.1 536.88,552.43 546.14,552.43 554.07,549.79 560.69,542.51 565.98,538.54 572.59,537.88 580.53,537.22 585.82,533.92 589.79,531.27 596.4,531.27 601.69,533.92 606.98,535.9 613.6,534.58 618.89,531.93 625.5,531.27 632.12,531.93 637.41,537.22 644.02,541.85 651.96,542.51 659.89,543.17 665.19,546.48 669.15,549.79 670,551.02 676.61,551.85 683.23,550.19 691.49,546.88 703.07,544.74 712.99,543.58 724.56,541.1 732.83,541.92 741.1,545.23 749.37,545.23 757.63,541.1 765.9,536.14 772.51,533.66 779.13,533.66 785.74,536.96 794.01,541.1 805.58,541.43 815.5,542.75 823.77,546.06 832.04,549.03 840.3,549.37 848.57,546.88 856.84,545.23 868.41,542.75 878.33,540.27 886.6,539.44 896.52,541.43 908.1,542.75 918.02,541.92 919.92,543.08 926.53,542.75 943.07,541.92 956.3,541.1 967.87,538.62 979.44,538.12 989.37,539.44 999.29,542.75 1009.21,545.23 1022.43,545.23 1035.66,544.4 1048.89,543.58 1062.12,543.58 1075.34,544.4 1085.26,542.75 1095.19,543.58 1105.11,545.23 1115.03,545.23 1124.95,542.75 1134.87,539.44 1144.79,537.79 1149.75,538.12 1150,540.27 1159.92,541.43 1169.84,544.4 1178.11,547.38 1184.72,546.88 1192.99,543.58 1202.91,541.92 1211.18,540.27 1219.44,538.62 1227.71,537.79 1237.63,539.11 1249.21,539.44 1265.74,539.44 1530,541.5" stroke="#ff00ff" stroke-width="4.3" stroke-dasharray="12.4 3.0"/>
</g>
<g class="tl">
<text x="103.2" y="705" font-size="23.78" text-anchor="middle">0</text>
<text x="280.4" y="705" font-size="23.78" text-anchor="middle">5</text>
<text x="459.7" y="705" font-size="23.78" text-anchor="middle">10</text>
<text x="638.7" y="705" font-size="23.78" text-anchor="middle">15</text>
<text x="818" y="705" font-size="23.78" text-anchor="middle">20</text>
<text x="995.3" y="705" font-size="23.78" text-anchor="middle">25</text>
<text x="1174.6" y="705" font-size="23.78" text-anchor="middle">30</text>
<text x="1354" y="705" font-size="23.78" text-anchor="middle">35</text>
<text x="1533.2" y="705" font-size="23.78" text-anchor="middle">40</text>
<text x="94.2" y="684.7" font-size="23.78" text-anchor="end">-0.2</text>
<text x="94.2" y="617.3" font-size="23.78" text-anchor="end">-0.1</text>
<text x="94.2" y="551.7" font-size="23.78" text-anchor="end">0</text>
<text x="94.2" y="484.6" font-size="23.78" text-anchor="end">0.1</text>
<text x="94.2" y="419.2" font-size="23.78" text-anchor="end">0.2</text>
</g>
<text x="814.7" y="389.3" font-size="25.3" text-anchor="middle">Velocity Diagram</text>
<text x="815.8" y="738.4" font-size="24.9" text-anchor="middle">time-s</text>
<text x="32.5" y="547.55" font-size="25.8" text-anchor="middle" transform="rotate(-90 32.5 547.55)">Velocity-m/s</text>
<g class="lg">
<rect x="1263.5" y="423.9" width="257.9" height="223" class="lb"/>
<line x1="1278.6" y1="445.2" x2="1356.6" y2="445.2" stroke="#0000ff" stroke-width="4.3"/>
<text x="1363.6" y="454.6" font-size="25.1" text-anchor="start">Earthquake</text>
<line x1="1278.6" y1="481.9" x2="1356.6" y2="481.9" stroke="#ff0000" stroke-width="4.3" stroke-dasharray="12.4 3.0"/>
<text x="1363.6" y="489.7" font-size="25.1" text-anchor="start">D Ratio=0</text>
<line x1="1278.6" y1="516.6" x2="1356.6" y2="516.6" stroke="#00ff00" stroke-width="4.3" stroke-dasharray="12.4 3.0"/>
<text x="1363.6" y="526" font-size="25.1" text-anchor="start">D Ratio=0.05</text>
<line x1="1278.6" y1="553.3" x2="1356.6" y2="553.3" stroke="#ff7a00" stroke-width="4.3" stroke-dasharray="12.4 3.0"/>
<text x="1363.6" y="562.1" font-size="25.1" text-anchor="start">D Ratio=0.1</text>
<line x1="1278.6" y1="588" x2="1356.6" y2="588" stroke="#00ffff" stroke-width="4.3" stroke-dasharray="12.4 3.0"/>
<text x="1363.6" y="598.8" font-size="25.1" text-anchor="start">D Ratio=0.15</text>
<line x1="1278.6" y1="624.1" x2="1356.6" y2="624.1" stroke="#ff00ff" stroke-width="4.3" stroke-dasharray="12.4 3.0"/>
<text x="1363.6" y="634.1" font-size="25.1" text-anchor="start">D Ratio=0.2</text>
</g>
<g class="ax">
<line x1="280.4" y1="1045.7" x2="280.4" y2="780.1" class="g" stroke-dasharray="9.3 8.74" stroke-dashoffset="0"/>
<line x1="459.7" y1="1045.7" x2="459.7" y2="780.1" class="g" stroke-dasharray="9.3 8.74" stroke-dashoffset="0"/>
<line x1="638.7" y1="1045.7" x2="638.7" y2="780.1" class="g" stroke-dasharray="9.3 8.74" stroke-dashoffset="0"/>
<line x1="818" y1="1045.7" x2="818" y2="780.1" class="g" stroke-dasharray="9.3 8.74" stroke-dashoffset="0"/>
<line x1="995.3" y1="1045.7" x2="995.3" y2="780.1" class="g" stroke-dasharray="9.3 8.74" stroke-dashoffset="0"/>
<line x1="1174.6" y1="1045.7" x2="1174.6" y2="780.1" class="g" stroke-dasharray="9.3 8.74" stroke-dashoffset="0"/>
<line x1="1354" y1="1045.7" x2="1354" y2="780.1" class="g" stroke-dasharray="9.3 8.74" stroke-dashoffset="0"/>
<line x1="103.2" y1="913" x2="1533.2" y2="913" class="g" stroke-dasharray="9.3 8.74" stroke-dashoffset="0"/>
</g>
<g class="fr">
<line x1="280.4" y1="1045.7" x2="280.4" y2="1031.4" class="t"/>
<line x1="280.4" y1="780.1" x2="280.4" y2="794.4" class="t"/>
<line x1="459.7" y1="1045.7" x2="459.7" y2="1031.4" class="t"/>
<line x1="459.7" y1="780.1" x2="459.7" y2="794.4" class="t"/>
<line x1="638.7" y1="1045.7" x2="638.7" y2="1031.4" class="t"/>
<line x1="638.7" y1="780.1" x2="638.7" y2="794.4" class="t"/>
<line x1="818" y1="1045.7" x2="818" y2="1031.4" class="t"/>
<line x1="818" y1="780.1" x2="818" y2="794.4" class="t"/>
<line x1="995.3" y1="1045.7" x2="995.3" y2="1031.4" class="t"/>
<line x1="995.3" y1="780.1" x2="995.3" y2="794.4" class="t"/>
<line x1="1174.6" y1="1045.7" x2="1174.6" y2="1031.4" class="t"/>
<line x1="1174.6" y1="780.1" x2="1174.6" y2="794.4" class="t"/>
<line x1="1354" y1="1045.7" x2="1354" y2="1031.4" class="t"/>
<line x1="1354" y1="780.1" x2="1354" y2="794.4" class="t"/>
<line x1="103.2" y1="913" x2="117.5" y2="913" class="t"/>
<line x1="1533.2" y1="913" x2="1518.9" y2="913" class="t"/>
<rect x="103.2" y="780.1" width="1430" height="265.6" class="b"/>
</g>
<g class="cv" clip-path="url(#ca3)">
<polyline points="103.31,913.18 111.57,913.68 114.88,915.99 118.19,912.35 121.49,908.72 124.8,911.53 128.11,916.49 131.42,917.31 133.9,913.18 135.55,909.05 138.86,913.18 140.51,922.28 141.34,935.5 143.32,942.12 144.64,955.34 145.97,959.48 148.28,953.69 149.6,942.12 151.59,935.5 152.58,923.93 155.39,917.31 157.04,909.05 158.7,899.13 160.35,889.21 162.83,880.94 165.31,867.71 167.79,856.14 169.44,845.39 171.92,842.08 175.23,841.59 178.54,844.56 181.02,851.18 182.67,859.44 185.15,869.37 186.81,871.85 190.11,871.02 193.42,873.5 195.9,877.63 197.88,884.25 199.21,895.82 201.69,909.05 203.34,920.62 205.82,927.24 208.3,928.06 211.61,923.1 214.91,922.28 218.22,924.76 222.35,929.72 224.83,937.16 228.14,943.77 231.45,948.73 234.76,949.56 238.06,946.25 240.54,940.46 243.85,935.5 247.16,933.85 250.46,935.5 252.94,940.46 255.42,947.08 257.9,949.56 261.21,947.08 263.69,940.46 266.17,932.2 268.65,922.28 270.3,910.7 273.61,905.74 276.09,915.66 277.74,927.24 280.22,938.81 282.71,945.42 286.01,944.6 290.15,940.46 295.11,941.29 299.24,937.16 302.55,932.2 306.68,930.54 311.64,932.2 316.6,930.54 322.39,929.72 325.69,935.5 327.35,943.77 329.83,955.34 332.31,965.26 333.96,976.84 336.44,985.11 339.75,987.59 340,987.59 343.31,981.8 345.79,970.22 348.27,955.34 350.25,945.42 352.4,935.5 354.88,927.24 357.36,915.66 359.84,905.74 362.32,894.17 364.8,887.55 367.28,885.9 370.59,890.03 373.9,894.99 377.2,891.69 380.51,885.9 383.82,882.59 387.95,880.94 392.91,875.98 397.04,873.5 401.18,872.67 404.48,869.37 407.46,868.54 410.27,871.02 412.75,877.63 415.23,887.55 417.38,895.82 419.37,899.95 424.33,900.78 429.29,899.95 431.77,895.82 434.25,884.25 436.73,871.02 439.21,856.14 441.19,844.56 443.34,832.99 445.82,818.11 448.3,808.19 450.78,799.92 453.76,795.79 456.57,798.27 459.05,808.19 461.53,823.07 463.68,839.6 465.66,854.48 467.31,867.71 469.79,880.94 472.28,887.55 476.41,889.21 480.54,892.51 483.85,899.13 486.33,905.74 488.81,910.7 492.12,915.66 496.25,922.28 499.56,928.89 502.04,935.5 504.52,943.77 507,952.04 509.48,960.3 511.96,968.57 515.26,975.19 518.57,980.15 525.19,980.48 530.97,980.97 534.28,985.11 537.59,991.72 540.89,997.51 545.03,999.16 547.51,999.99 551.64,995.85 554.95,992.55 556.6,983.45 558.58,971.88 560.73,961.96 562.39,950.38 564.04,938.81 565.69,928.89 569,924.76 574.79,924.76 578.92,920.62 581.4,912.35 583.88,902.43 586.36,890.86 588.84,879.29 589.92,875.98 593.23,871.85 596.53,870.69 599.84,872.67 603.15,877.63 607.28,878.96 611.42,875.15 614.72,869.37 617.2,859.44 619.68,849.52 622.16,841.26 624.97,836.3 628.78,835.47 632.08,838.78 634.56,844.56 637.04,852.83 639.52,862.75 642,872.67 644.48,880.11 647.79,885.9 652.75,888.38 656.88,890.86 660.19,897.47 662.67,905.74 665.15,914.01 667.63,922.28 670.11,930.54 672.59,938.81 675.07,948.73 677.55,954.52 680.86,957 684.17,956.17 688.3,952.04 692.43,947.9 696.57,943.77 700.7,938.81 704.01,933.85 708.14,931.37 712.28,930.54 716.41,928.06 720.54,923.93 723.85,917.31 727.16,912.35 731.29,910.7 735.42,913.18 738.73,918.97 742.04,927.24 745.34,933.85 747.82,936.33 751.13,934.68 753.61,928.89 756.09,918.97 758.57,909.05 761.05,897.47 763.53,887.55 766.01,879.29 769.32,871.02 772.63,864.4 775.93,861.43 779.24,861.43 782.55,864.4 785.85,872.67 789.16,880.94 792.47,887.55 796.6,892.51 801.56,894.17 806.52,895.82 810.65,899.13 813.96,904.09 817.27,910.7 820.58,918.97 823.31,919.29 826.61,925.9 829.92,934.17 833.23,940.78 836.53,945.74 840.67,949.05 844.8,947.72 848.94,944.09 853.07,939.95 857.2,935.82 861.34,933.34 865.47,929.21 869.6,925.07 873.74,920.94 877.87,915.98 881.18,907.71 883.66,901.92 887.46,899.44 891.1,901.1 894.4,904.4 897.71,907.71 901.02,912.67 905.15,916.81 910.11,919.29 915.9,920.94 922.51,920.94 927.47,919.29 932.43,915.98 939.05,912.67 945.66,911.02 952.28,907.71 957.24,902.75 961.37,898.62 964.68,893.66 967.98,889.52 971.29,885.39 974.6,882.08 978.73,880.93 982.86,879.93 987,881.59 991.13,883.74 994.44,887.04 997.74,891.18 1000.22,896.14 1003.53,901.1 1006.84,908.54 1010.15,915.98 1013.45,920.94 1016.76,922.59 1020.89,921.77 1025.03,920.61 1029.16,923.42 1033.29,924.58 1039.91,924.58 1044.04,920.94 1048.17,916.81 1052.31,912.67 1056.44,911.02 1060.58,913.5 1064.13,919.29 1068.27,924.25 1073.23,928.38 1079.84,928.88 1084.8,925.9 1088.94,924.58 1093.07,925.07 1097.2,928.38 1101.34,932.51 1106.3,936.65 1111.26,938.8 1116.22,938.3 1121.18,933.34 1126.14,928.38 1130.27,922.59 1134.4,914.33 1137.71,906.06 1140.19,899.44 1143.5,896.14 1146.81,895.31 1150.94,896.96 1155.07,901.1 1159.21,905.23 1162.51,909.37 1164.99,914.33 1167.47,921.77 1169.95,928.38 1173.26,934.17 1176.57,939.95 1179.87,944.09 1182.35,944.42 1185.66,941.61 1189.79,937.47 1193.93,933.34 1197.24,928.38 1199.72,920.94 1203.02,915.15 1207.16,911.02 1210.46,906.06 1213.77,901.1 1217.08,897.79 1220.38,893.66 1223.69,891.18 1227.82,889.85 1232.78,889.85 1236.92,891.51 1241.05,893.16 1246.84,893.66 1251.8,892 1255.93,890.35 1259.24,887.87 1266.68,882.91 1400,900 1530,912" stroke="#0000ff" stroke-width="4.3"/>
<polyline points="103.31,913.18 166.14,912.69 182.67,911.53 339.75,911.53 340,911.53 588.84,911.53 589.92,911.53 712.28,910.37 820.58,909.87 820,909.86 1058.1,909.37 1060,909.37 1145.98,909.03 1150.11,906.88 1266.68,906.39 1530,907.5" stroke="#ff0000" stroke-width="4.3" stroke-dasharray="12.4 3.0"/>
<polyline points="103.31,913.18 154.56,914.34 166.14,913.18 176.06,909.05 184.33,905.74 194.25,904.58 205.82,905.74 219.05,909.05 235.58,912.35 252.12,913.18 265.34,913.18 281.88,914.01 295.11,916.49 308.33,917.65 323.21,918.14 334.79,920.62 339.75,921.61 340,923.1 348.27,924.76 356.53,924.76 364.8,923.1 373.07,921.45 381.34,918.97 389.6,917.31 397.87,915.66 406.14,914.01 416.06,913.18 425.98,912.69 435.9,912.02 444.17,909.05 452.43,904.09 459.05,900.45 467.31,899.13 475.58,898.3 485.5,898.3 495.42,899.46 505.34,901.61 513.61,904.09 521.88,908.22 530.15,912.35 538.41,915.66 546.68,918.64 554.95,920.62 563.21,921.45 574.79,921.45 588.84,920.62 589.92,919.79 599.84,917.31 609.76,914.01 619.68,910.7 629.6,907.39 637.87,904.91 647.79,904.09 657.71,903.76 667.63,904.42 675.9,906.57 684.17,909.05 694.09,911.03 705.66,912.02 720.54,912.35 737.08,912.69 751.96,913.18 761.88,912.69 770.15,910.7 778.41,908.72 788.33,907.72 799.91,907.39 811.48,907.39 820.58,907.72 820,908.7 826.61,909.5 833.23,910.82 839.84,912.41 846.46,913.99 853.07,915.21 859.68,915.85 867.95,915.95 876.22,915.58 884.48,914.79 892.75,913.99 901.02,913.47 909.29,913.62 919.21,913.99 930.78,914.15 942.35,913.84 952.28,913.47 960.54,912.94 968.81,911.88 977.08,910.29 985.34,908.97 991.96,908.33 998.57,908.17 1006.84,908.44 1015.11,909.23 1023.37,910.13 1031.64,911.08 1039.91,911.88 1048.17,912.25 1058.1,912.41 1060,912.41 1068.27,912.94 1076.53,913.73 1084.8,914.26 1093.07,914.79 1101.34,915.58 1109.6,916.27 1117.87,916.64 1126.14,916.64 1134.4,915.95 1142.67,915.05 1150.94,913.99 1159.21,913.47 1167.47,913.47 1175.74,914.26 1184.01,915.58 1192.28,916.48 1200.54,916.64 1208.81,915.85 1217.08,914.79 1225.34,913.73 1233.61,912.67 1241.88,911.61 1250.15,910.66 1258.41,909.76 1266.68,908.97 1530,916" stroke="#00ff00" stroke-width="4.3" stroke-dasharray="10 3.1" stroke-dashoffset="3"/>
<polyline points="103.31,913.18 149.6,914.83 156.22,915.99 164.48,913.68 174.4,908.22 182.67,902.43 190.94,899.46 199.21,899.95 209.13,902.43 222.35,908.22 235.58,913.18 248.81,915.66 262.04,917.31 273.61,917.31 285.19,918.97 298.41,922.28 314.95,922.28 326.52,923.1 334.79,927.24 339.75,929.72 340,931.37 346.61,933.52 353.23,934.18 359.84,932.2 368.11,928.06 376.38,923.93 384.64,920.62 392.91,917.31 401.18,914.01 409.44,911.53 417.71,910.37 425.98,909.38 434.25,907.72 442.51,903.26 450.78,895.82 457.39,889.21 464.01,886.23 472.28,885.57 480.54,885.9 488.81,887.55 497.08,890.53 505.34,895.82 513.61,902.43 521.88,909.05 530.15,916.49 538.41,922.28 546.68,927.24 554.95,930.87 563.21,932.2 571.48,931.87 579.75,930.54 588.84,927.57 589.92,926.41 596.53,922.28 604.8,918.14 613.07,913.18 621.34,908.22 629.6,903.26 636.22,899.95 644.48,898.3 652.75,897.47 662.67,897.47 669.29,899.46 675.9,904.09 682.51,908.22 690.78,911.53 699.05,913.18 708.97,914.34 720.54,914.83 732.12,914.83 742.04,915.66 751.96,916.49 760.22,915.66 766.84,913.18 773.45,909.05 780.07,905.74 788.33,904.09 798.25,903.26 809.83,903.26 820.58,904.42 820,905.23 826.61,906.72 833.23,909.2 839.84,912.18 846.46,915.15 853.07,917.43 859.68,918.62 867.95,918.82 876.22,918.13 884.48,916.64 892.75,915.15 901.02,914.16 909.29,914.46 919.21,915.15 930.78,915.45 942.35,914.85 952.28,914.16 960.54,913.17 968.81,911.18 977.08,908.21 985.34,905.73 991.96,904.54 998.57,904.24 1006.84,904.74 1015.11,906.22 1023.37,907.91 1031.64,909.7 1039.91,911.18 1048.17,911.88 1058.1,912.18 1060,912.18 1068.27,913.17 1076.53,914.66 1084.8,915.65 1093.07,916.64 1101.34,918.13 1109.6,919.42 1117.87,920.11 1126.14,920.11 1134.4,918.82 1142.67,917.14 1150.94,915.15 1159.21,914.16 1167.47,914.16 1175.74,915.65 1184.01,918.13 1192.28,919.81 1200.54,920.11 1208.81,918.62 1217.08,916.64 1225.34,914.66 1233.61,912.67 1241.88,910.69 1250.15,908.9 1258.41,907.22 1266.68,905.73 1530,917" stroke="#ff7a00" stroke-width="4.3" stroke-dasharray="10 3.1" stroke-dashoffset="6"/>
<polyline points="103.31,913.18 138.03,913.18 147.95,916.49 154.56,917.65 162.83,915.33 171.1,907.39 179.37,899.95 187.63,894.99 195.9,893.34 202.51,894.17 212.43,899.13 224.01,906.57 235.58,913.18 245.5,917.31 257.08,921.45 265.34,922.28 273.61,920.62 281.88,921.45 291.8,925.58 301.72,927.24 314.95,927.24 324.87,927.24 333.13,932.2 339.75,936.83 340,937.16 344.96,939.64 351.57,940.46 358.19,937.98 366.46,933.02 374.72,928.06 382.99,923.1 391.26,917.31 399.52,911.53 407.79,906.57 416.06,904.09 424.33,904.42 432.59,903.26 440.86,899.13 449.13,889.21 455.74,880.11 462.35,875.15 467.31,873.99 473.93,874.33 482.2,876.81 490.46,880.61 498.73,886.73 507,893.34 515.26,902.43 523.53,911.53 531.8,920.62 540.07,929.72 548.33,937.16 556.6,942.94 563.21,944.6 571.48,942.12 579.75,939.64 588.84,934.68 589.92,931.7 596.53,926.41 604.8,919.79 613.07,913.18 621.34,905.74 629.6,898.3 636.22,893.34 642.83,891.19 651.1,890.86 659.37,891.19 667.63,893.34 674.25,898.3 680.86,904.91 687.47,910.7 695.74,914.83 704.01,917.31 712.28,918.14 722.2,918.14 732.12,917.31 742.04,917.65 750.3,919.3 758.57,918.97 765.19,916.49 771.8,911.53 778.41,905.74 785.03,902.43 793.29,901.11 803.21,900.45 813.13,900.78 820.58,902.43 820,902.13 826.61,904.24 833.23,907.75 839.84,911.97 846.46,916.19 853.07,919.42 859.68,921.1 867.95,921.39 876.22,920.4 884.48,918.29 892.75,916.19 901.02,914.78 909.29,915.2 919.21,916.19 930.78,916.61 942.35,915.76 952.28,914.78 960.54,913.37 968.81,910.56 977.08,906.35 985.34,902.83 991.96,901.15 998.57,900.73 1006.84,901.43 1015.11,903.54 1023.37,905.93 1031.64,908.46 1039.91,910.56 1048.17,911.55 1058.1,911.97 1060,911.97 1068.27,913.37 1076.53,915.48 1084.8,916.89 1093.07,918.29 1101.34,920.4 1109.6,922.23 1117.87,923.21 1126.14,923.21 1134.4,921.39 1142.67,919 1150.94,916.19 1159.21,914.78 1167.47,914.78 1175.74,916.89 1184.01,920.4 1192.28,922.79 1200.54,923.21 1208.81,921.1 1217.08,918.29 1225.34,915.48 1233.61,912.67 1241.88,909.86 1250.15,907.33 1258.41,904.94 1266.68,902.83 1530,919" stroke="#00ffff" stroke-width="4.3" stroke-dasharray="10 3.1" stroke-dashoffset="10"/>
<polyline points="103.31,913.18 138.03,913.18 147.95,917.31 154.56,918.97 162,916.49 169.44,907.39 177.71,897.47 185.98,892.51 192.59,890.03 199.21,890.03 207.47,893.34 215.74,898.3 225.66,905.74 235.58,913.18 245.5,918.14 255.42,922.28 262.04,924.76 271.96,923.1 278.57,921.45 286.84,925.58 296.76,929.72 306.68,930.54 316.6,930.54 324.87,930.54 333.13,935.5 339.75,941.29 340,941.29 344.96,944.6 350.75,945.42 356.53,942.94 364.8,937.16 373.07,930.54 381.34,924.76 389.6,918.14 397.87,910.7 406.14,903.26 414.4,899.95 422.67,899.46 430.94,899.46 439.21,895.82 447.47,885.9 455.74,872.67 462.35,866.06 467.31,864.74 473.93,866.39 482.2,870.19 490.46,875.15 498.73,882.59 507,890.86 515.26,900.78 523.53,910.7 531.8,922.28 540.07,933.85 548.33,943.77 554.95,951.21 561.56,953.69 568.17,951.21 574.79,948.73 583.06,942.12 588.84,937.16 589.92,935.17 593.23,932.2 599.84,925.58 606.46,918.97 613.07,911.53 619.68,904.09 626.3,896.65 632.91,890.03 639.52,885.9 646.14,885.07 654.4,885.57 662.67,886.73 669.29,890.03 675.9,896.65 682.51,904.09 689.13,910.7 695.74,915.66 702.35,918.97 710.62,920.62 718.89,921.45 727.16,919.79 733.77,918.14 742.04,918.97 748.65,921.45 755.26,921.94 761.88,919.79 768.49,914.83 775.11,908.22 781.72,902.43 788.33,899.46 796.6,898.3 804.87,897.8 813.13,898.3 820.58,899.95 820,900.27 826.61,902.75 833.23,906.88 839.84,911.85 846.46,916.81 853.07,920.61 859.68,922.59 867.95,922.92 876.22,921.77 884.48,919.29 892.75,916.81 901.02,915.15 909.29,915.65 919.21,916.81 930.78,917.3 942.35,916.31 952.28,915.15 960.54,913.5 968.81,910.19 977.08,905.23 985.34,901.1 991.96,899.11 998.57,898.62 1006.84,899.44 1015.11,901.92 1023.37,904.74 1031.64,907.71 1039.91,910.19 1048.17,911.35 1058.1,911.85 1060,911.85 1068.27,913.5 1076.53,915.98 1084.8,917.63 1093.07,919.29 1101.34,921.77 1109.6,923.92 1117.87,925.07 1126.14,925.07 1134.4,922.92 1142.67,920.11 1150.94,916.81 1159.21,915.15 1167.47,915.15 1175.74,917.63 1184.01,921.77 1192.28,924.58 1200.54,925.07 1208.81,922.59 1217.08,919.29 1225.34,915.98 1233.61,912.67 1241.88,909.37 1250.15,906.39 1258.41,903.58 1266.68,901.1 1530,919.2" stroke="#ff00ff" stroke-width="4.3" stroke-dasharray="10 3.1"/>
</g>
<g class="tl">
<text x="103.2" y="1074.4" font-size="23.78" text-anchor="middle">0</text>
<text x="280.4" y="1074.4" font-size="23.78" text-anchor="middle">5</text>
<text x="459.7" y="1074.4" font-size="23.78" text-anchor="middle">10</text>
<text x="638.7" y="1074.4" font-size="23.78" text-anchor="middle">15</text>
<text x="818" y="1074.4" font-size="23.78" text-anchor="middle">20</text>
<text x="995.3" y="1074.4" font-size="23.78" text-anchor="middle">25</text>
<text x="1174.6" y="1074.4" font-size="23.78" text-anchor="middle">30</text>
<text x="1354" y="1074.4" font-size="23.78" text-anchor="middle">35</text>
<text x="1533.2" y="1074.4" font-size="23.78" text-anchor="middle">40</text>
<text x="94.2" y="1054.1" font-size="23.78" text-anchor="end">-0.05</text>
<text x="94.2" y="921.4" font-size="23.78" text-anchor="end">0</text>
<text x="94.2" y="788.5" font-size="23.78" text-anchor="end">0.05</text>
</g>
<text x="814.8" y="758.6" font-size="24.9" text-anchor="middle">Displacement Diagram</text>
<text x="815.8" y="1107.8" font-size="24.9" text-anchor="middle">time-s</text>
<text x="18.3" y="915.7" font-size="25.1" text-anchor="middle" transform="rotate(-90 18.3 915.7)">Displacement-m</text>
<g class="lg">
<rect x="1263.5" y="793.5" width="257.9" height="223" class="lb"/>
<line x1="1278.6" y1="814.8" x2="1356.6" y2="814.8" stroke="#0000ff" stroke-width="4.3"/>
<text x="1363.6" y="824.2" font-size="25.1" text-anchor="start">Earthquake</text>
<line x1="1278.6" y1="851.5" x2="1356.6" y2="851.5" stroke="#ff0000" stroke-width="4.3" stroke-dasharray="12.4 3.0"/>
<text x="1363.6" y="859.3" font-size="25.1" text-anchor="start">D Ratio=0</text>
<line x1="1278.6" y1="886.2" x2="1356.6" y2="886.2" stroke="#00ff00" stroke-width="4.3" stroke-dasharray="12.4 3.0"/>
<text x="1363.6" y="895.6" font-size="25.1" text-anchor="start">D Ratio=0.05</text>
<line x1="1278.6" y1="922.9" x2="1356.6" y2="922.9" stroke="#ff7a00" stroke-width="4.3" stroke-dasharray="12.4 3.0"/>
<text x="1363.6" y="931.7" font-size="25.1" text-anchor="start">D Ratio=0.1</text>
<line x1="1278.6" y1="957.6" x2="1356.6" y2="957.6" stroke="#00ffff" stroke-width="4.3" stroke-dasharray="12.4 3.0"/>
<text x="1363.6" y="968.4" font-size="25.1" text-anchor="start">D Ratio=0.15</text>
<line x1="1278.6" y1="993.7" x2="1356.6" y2="993.7" stroke="#ff00ff" stroke-width="4.3" stroke-dasharray="12.4 3.0"/>
<text x="1363.6" y="1003.7" font-size="25.1" text-anchor="start">D Ratio=0.2</text>
</g>
<g class="ax">
<line x1="368.2" y1="1722" x2="368.2" y2="1291.5" class="g" stroke-dasharray="9.3 8.74" stroke-dashoffset="1.2"/>
<line x1="473.2" y1="1722" x2="473.2" y2="1291.5" class="g" stroke-dasharray="9.3 8.74" stroke-dashoffset="1.2"/>
<line x1="579" y1="1722" x2="579" y2="1291.5" class="g" stroke-dasharray="9.3 8.74" stroke-dashoffset="1.2"/>
<line x1="682.4" y1="1722" x2="682.4" y2="1291.5" class="g" stroke-dasharray="9.3 8.74" stroke-dashoffset="1.2"/>
<line x1="787.9" y1="1722" x2="787.9" y2="1291.5" class="g" stroke-dasharray="9.3 8.74" stroke-dashoffset="1.2"/>
<line x1="893.5" y1="1722" x2="893.5" y2="1291.5" class="g" stroke-dasharray="9.3 8.74" stroke-dashoffset="1.2"/>
<line x1="996.6" y1="1722" x2="996.6" y2="1291.5" class="g" stroke-dasharray="9.3 8.74" stroke-dashoffset="1.2"/>
<line x1="1102.6" y1="1722" x2="1102.6" y2="1291.5" class="g" stroke-dasharray="9.3 8.74" stroke-dashoffset="1.2"/>
<line x1="1207.3" y1="1722" x2="1207.3" y2="1291.5" class="g" stroke-dasharray="9.3 8.74" stroke-dashoffset="1.2"/>
<line x1="264.8" y1="1634.3" x2="1313.2" y2="1634.3" class="g" stroke-dasharray="9.3 8.74" stroke-dashoffset="0"/>
<line x1="264.8" y1="1549.1" x2="1313.2" y2="1549.1" class="g" stroke-dasharray="9.3 8.74" stroke-dashoffset="0"/>
<line x1="264.8" y1="1461.8" x2="1313.2" y2="1461.8" class="g" stroke-dasharray="9.3 8.74" stroke-dashoffset="0"/>
<line x1="264.8" y1="1376.5" x2="1313.2" y2="1376.5" class="g" stroke-dasharray="9.3 8.74" stroke-dashoffset="0"/>
</g>
<g class="fr">
<line x1="368.2" y1="1722" x2="368.2" y2="1711.5" class="t"/>
<line x1="368.2" y1="1291.5" x2="368.2" y2="1302" class="t"/>
<line x1="473.2" y1="1722" x2="473.2" y2="1711.5" class="t"/>
<line x1="473.2" y1="1291.5" x2="473.2" y2="1302" class="t"/>
<line x1="579" y1="1722" x2="579" y2="1711.5" class="t"/>
<line x1="579" y1="1291.5" x2="579" y2="1302" class="t"/>
<line x1="682.4" y1="1722" x2="682.4" y2="1711.5" class="t"/>
<line x1="682.4" y1="1291.5" x2="682.4" y2="1302" class="t"/>
<line x1="787.9" y1="1722" x2="787.9" y2="1711.5" class="t"/>
<line x1="787.9" y1="1291.5" x2="787.9" y2="1302" class="t"/>
<line x1="893.5" y1="1722" x2="893.5" y2="1711.5" class="t"/>
<line x1="893.5" y1="1291.5" x2="893.5" y2="1302" class="t"/>
<line x1="996.6" y1="1722" x2="996.6" y2="1711.5" class="t"/>
<line x1="996.6" y1="1291.5" x2="996.6" y2="1302" class="t"/>
<line x1="1102.6" y1="1722" x2="1102.6" y2="1711.5" class="t"/>
<line x1="1102.6" y1="1291.5" x2="1102.6" y2="1302" class="t"/>
<line x1="1207.3" y1="1722" x2="1207.3" y2="1711.5" class="t"/>
<line x1="1207.3" y1="1291.5" x2="1207.3" y2="1302" class="t"/>
<line x1="264.8" y1="1634.3" x2="275.3" y2="1634.3" class="t"/>
<line x1="1313.2" y1="1634.3" x2="1302.7" y2="1634.3" class="t"/>
<line x1="264.8" y1="1549.1" x2="275.3" y2="1549.1" class="t"/>
<line x1="1313.2" y1="1549.1" x2="1302.7" y2="1549.1" class="t"/>
<line x1="264.8" y1="1461.8" x2="275.3" y2="1461.8" class="t"/>
<line x1="1313.2" y1="1461.8" x2="1302.7" y2="1461.8" class="t"/>
<line x1="264.8" y1="1376.5" x2="275.3" y2="1376.5" class="t"/>
<line x1="1313.2" y1="1376.5" x2="1302.7" y2="1376.5" class="t"/>
<rect x="264.8" y="1291.5" width="1048.4" height="430.5" class="b"/>
</g>
<g class="cv" clip-path="url(#cb)">
<polyline points="264.8,1722 268,1690 272.9,1627 276.8,1627 279.3,1690 281,1650 282.5,1700 284.3,1508.5 286.8,1690 290.2,1491 292,1560 294.2,1700 296.5,1560 298.1,1491 300.5,1700 302,1570 304,1308.3 306.5,1540 308,1420 310,1371.6 311.5,1604 313.9,1637.4 315.9,1338.5 318,1420 320.9,1458 321.9,1643.3 324,1560 328,1340 330.3,1635.4 334,1369.6 337,1480 340.2,1639.4 343,1520 345.9,1382 348.1,1675 350,1504.7 352.5,1607.7 355,1530 357.5,1619.6 360,1480 363.9,1306.3 366,1420 367.9,1645 369.7,1498.6 371.5,1647 373.9,1406 376.1,1540 377.9,1536.6 379.7,1598 382.4,1689 385.14,1453.22 386.41,1308.14 388.4,1297.25 389.31,1473.17 390.21,1600.12 394.2,1456.85 396.92,1494.93 399.64,1433.27 401.46,1494.93 404.18,1498.56 405.09,1614.63 409.62,1504.91 412.34,1513.07 413.79,1591.05 415.97,1587.42 417.78,1527.58 420.5,1654.53 422.31,1612.81 425.4,1669.94 429.57,1508.53 432.29,1605.56 435.01,1560.22 438.64,1622.79 441.36,1572.92 444.08,1556.59 447.7,1516.7 450.42,1498.56 452.24,1540.27 455.87,1549.34 458.59,1634.58 461.31,1653.62 464.93,1623.7 468.56,1645.46 470.37,1667.22 474.91,1678.1 477.63,1621.88 478.19,1620.51 480.67,1621.34 483.15,1631.26 484.8,1596.53 485.63,1567.6 488.11,1596.53 489.76,1661.02 493.07,1628.78 495.55,1641.18 497.2,1664.33 499.68,1685.82 502.16,1699.05 503.82,1710.62 506.3,1670.94 508.78,1667.63 511.26,1707.31 514.56,1680.03 517.04,1700.7 519.52,1713.93 523.66,1716.41 525.31,1695.74 526.96,1671.77 530.27,1668.46 532.75,1664.33 535.23,1669.29 536.88,1678.38 539.37,1654.4 541.02,1640.35 542.67,1665.98 545.15,1651.1 548.46,1651.1 550.94,1661.02 553.42,1669.29 555.07,1685.82 557.55,1685.82 560.03,1672.59 562.51,1662.67 564.99,1677.55 567.47,1672.59 568.8,1661.85 570.78,1669.29 573.26,1680.03 575.74,1672.59 577.72,1669.29 579.05,1684.17 581.53,1683.34 584.01,1677.55 586.49,1675.07 588.64,1670.11 590.62,1679.21 592.28,1688.3 594.76,1685.82 597.24,1682.51 598.89,1695.74 602.2,1690.78 605.5,1682.51 607.98,1675.9 610.46,1670.11 612.94,1675.9 616.25,1665.98 618.73,1674.25 621.21,1684.17 624.52,1684.17 627,1692.43 629.48,1702.35 631.96,1708.97 634.44,1713.1 637.74,1708.14 640.22,1715.58 643.53,1710.62 646.01,1705.66 647.67,1695.74 650.97,1695.74 653.45,1703.18 655.93,1708.97 658.41,1699.87 660.89,1707.31 664.2,1706.49 666.68,1713.93 669.16,1716.41 672.47,1710.62 674.95,1708.14 678.25,1712.28 681.56,1707.31 684.04,1699.87 687.35,1703.18 689.83,1706.49 692.31,1712.28 695.62,1708.14 698.1,1710.62 700.58,1708.14 702.98,1713.49 706.94,1707.54 709.92,1699.6 712.9,1699.6 714.88,1711.51 717.86,1701.59 719.84,1695.63 722.82,1701.59 724.8,1707.54 727.78,1706.55 729.76,1715.48 732.74,1705.56 735.71,1703.57 738.69,1709.52 740.67,1713.49 743.65,1707.54 746.63,1704.56 749.6,1713.49 751.59,1705.56 753.97,1701.19 756.55,1707.54 758.53,1711.51 761.51,1706.55 764.48,1711.51 768.45,1715.48 773.41,1716.47 778.37,1714.48 783.33,1713.89 787.3,1712.5 790.28,1709.52 793.25,1711.9 797.22,1715.48 802.18,1714.48 807.14,1715.87 812.1,1714.48 817.06,1713.89 821.03,1716.47 828.97,1715.48 834.92,1718.45 842.86,1717.46 850.79,1715.48 855.75,1711.9 858.73,1714.48 862.7,1714.48 867.66,1715.48 871.63,1711.9 874.6,1714.48 878.57,1716.47 884.52,1713.89 889.48,1716.47 895.44,1713.49 900.4,1715.48 908.33,1717.46 922.22,1717.86 928.17,1719.84 961.9,1718.45 965.87,1717.46 973.81,1718.45 979.76,1717.46 987.7,1717.86 993.65,1717.06 1000,1718.45 1010,1718 1020,1716 1030,1719 1313.2,1720" stroke="#0000ff" stroke-width="4.9"/>
<polyline points="265.08,1720.53 269.09,1719 274.65,1717.73 279.11,1719 284.67,1717.06 288.01,1719.4 291.35,1717.39 294.69,1719.53 298.02,1718.06 300.69,1719 304.26,1716.79 307.37,1718.19 310.26,1717.79 312.49,1718.6 315.83,1717.73 319.17,1719.4 321.39,1718.66 324.73,1719.8 328.07,1718.33 331.41,1719.4 334.75,1718.53 339.2,1719.93 342.54,1719 344.76,1719.66 346.99,1718.93 350.33,1720.06 354.78,1719.4 358.12,1720.06 362.57,1718.86 367.02,1719.66 372.58,1719.4 375.92,1720.2 380.37,1719.93 382.6,1720.33 387.05,1719.2 390.39,1719.93 393.73,1719.66 396.4,1720.06 399.29,1719.66 403.08,1720.13 407.08,1719.86 411.09,1720.2 414.87,1719.93 418.66,1720.22 422.66,1720 426,1720.22 429.34,1719.96 432.68,1720.26 436.02,1720.06 439.35,1720.28 441.36,1719.89 448.61,1719.78 459.49,1720.03 470.37,1720.14 479.99,1720.19 473.23,1720.34 478.19,1720.24 484.8,1720.16 489.76,1720.28 494.72,1720.26 498.03,1720.38 502.99,1720.4 1313.2,1720.41" stroke="#ff0000" stroke-width="4.6"/>
<polyline points="265.08,1720.61 269.09,1715.49 274.65,1711.26 279.11,1715.49 284.67,1709.03 288.01,1716.82 291.35,1710.15 294.69,1717.27 298.02,1712.37 300.69,1715.49 304.26,1708.14 307.37,1712.82 310.26,1711.48 312.49,1714.15 315.83,1711.26 319.17,1716.82 321.39,1714.37 324.73,1718.16 328.07,1713.26 331.41,1716.82 334.75,1713.93 339.2,1718.6 342.54,1715.49 344.76,1717.71 346.99,1715.26 350.33,1719.05 354.78,1716.82 358.12,1719.05 362.57,1715.04 367.02,1717.71 372.58,1716.82 375.92,1719.49 380.37,1718.6 382.6,1719.94 387.05,1716.15 390.39,1718.6 393.73,1717.71 396.4,1719.05 399.29,1717.71 403.08,1719.27 407.08,1718.38 411.09,1719.49 414.87,1718.6 418.66,1719.58 422.66,1718.83 426,1719.58 429.34,1718.69 432.68,1719.72 436.02,1719.05 439.35,1719.76 441.36,1718.46 448.61,1718.1 459.49,1718.93 470.37,1719.3 479.99,1719.48 473.23,1719.95 478.19,1719.62 484.8,1719.36 489.76,1719.75 494.72,1719.69 498.03,1720.08 502.99,1720.18 1313.2,1720.2" stroke="#00ff00" stroke-width="3.4"/>
<polyline points="265.08,1720.67 269.09,1712.23 274.65,1705.25 279.11,1712.23 284.67,1701.58 288.01,1714.43 291.35,1703.41 294.69,1715.17 298.02,1707.09 300.69,1712.23 304.26,1700.11 307.37,1707.82 310.26,1705.62 312.49,1710.02 315.83,1705.25 319.17,1714.43 321.39,1710.39 324.73,1716.64 328.07,1708.56 331.41,1714.43 334.75,1709.66 339.2,1717.37 342.54,1712.23 344.76,1715.9 346.99,1711.86 350.33,1718.1 354.78,1714.43 358.12,1718.1 362.57,1711.49 367.02,1715.9 372.58,1714.43 375.92,1718.84 380.37,1717.37 382.6,1719.57 387.05,1713.33 390.39,1717.37 393.73,1715.9 396.4,1718.1 399.29,1715.9 403.08,1718.47 407.08,1717 411.09,1718.84 414.87,1717.37 418.66,1718.99 422.66,1717.74 426,1718.99 429.34,1717.52 432.68,1719.21 436.02,1718.1 439.35,1719.28 441.36,1717.14 448.61,1716.54 459.49,1717.92 470.37,1718.51 479.99,1718.81 473.23,1719.6 478.19,1719.05 484.8,1718.61 489.76,1719.27 494.72,1719.16 498.03,1719.81 502.99,1719.98 1313.2,1720.01" stroke="#ff7a00" stroke-width="3.4"/>
<polyline points="265.08,1720.74 269.09,1709.22 274.65,1699.71 279.11,1709.22 284.67,1694.7 288.01,1712.23 291.35,1697.2 294.69,1713.23 298.02,1702.21 300.69,1709.22 304.26,1692.69 307.37,1703.21 310.26,1700.21 312.49,1706.22 315.83,1699.71 319.17,1712.23 321.39,1706.72 324.73,1715.23 328.07,1704.21 331.41,1712.23 334.75,1705.71 339.2,1716.23 342.54,1709.22 344.76,1714.23 346.99,1708.72 350.33,1717.23 354.78,1712.23 358.12,1717.23 362.57,1708.22 367.02,1714.23 372.58,1712.23 375.92,1718.23 380.37,1716.23 382.6,1719.24 387.05,1710.72 390.39,1716.23 393.73,1714.23 396.4,1717.23 399.29,1714.23 403.08,1717.73 407.08,1715.73 411.09,1718.23 414.87,1716.23 418.66,1718.43 422.66,1716.73 426,1718.43 429.34,1716.43 432.68,1718.74 436.02,1717.23 439.35,1718.84 441.36,1715.91 448.61,1715.1 459.49,1716.98 470.37,1717.79 479.99,1718.2 473.23,1719.27 478.19,1718.52 484.8,1717.93 489.76,1718.82 494.72,1718.67 498.03,1719.56 502.99,1719.79 1313.2,1719.83" stroke="#00ffff" stroke-width="3.4"/>
<polyline points="265.08,1721.83 269.09,1696.23 274.65,1675.09 279.11,1696.23 284.67,1663.96 288.01,1702.91 291.35,1669.53 294.69,1705.14 298.02,1680.65 300.69,1696.23 304.26,1659.51 307.37,1682.88 310.26,1676.2 312.49,1689.56 315.83,1675.09 319.17,1702.91 321.39,1690.67 324.73,1709.59 328.07,1685.11 331.41,1702.91 334.75,1688.44 339.2,1711.81 342.54,1696.23 344.76,1707.36 346.99,1695.12 350.33,1714.04 354.78,1702.91 358.12,1714.04 362.57,1694.01 367.02,1707.36 372.58,1702.91 375.92,1716.27 380.37,1711.81 382.6,1718.49 387.05,1699.57 390.39,1711.81 393.73,1707.36 396.4,1714.04 399.29,1707.36 403.08,1715.15 407.08,1710.7 411.09,1716.27 414.87,1711.81 418.66,1716.71 422.66,1712.93 426,1716.71 429.34,1712.26 432.68,1717.38 436.02,1714.04 439.35,1717.6 441.36,1711.11 448.61,1709.3 459.49,1713.47 470.37,1715.28 479.99,1716.19 473.23,1718.56 478.19,1716.9 484.8,1715.58 489.76,1717.57 494.72,1717.24 498.03,1719.22 502.99,1719.72 1313.2,1719.8" stroke="#ff00ff" stroke-width="5.6"/>
</g>
<g class="tl">
<text x="265.7" y="1752" font-size="25.22" text-anchor="middle">0</text>
<text x="369.1" y="1752" font-size="25.22" text-anchor="middle">2</text>
<text x="474.1" y="1752" font-size="25.22" text-anchor="middle">4</text>
<text x="579.9" y="1752" font-size="25.22" text-anchor="middle">6</text>
<text x="683.3" y="1752" font-size="25.22" text-anchor="middle">8</text>
<text x="788.8" y="1752" font-size="25.22" text-anchor="middle">10</text>
<text x="894.4" y="1752" font-size="25.22" text-anchor="middle">12</text>
<text x="997.5" y="1752" font-size="25.22" text-anchor="middle">14</text>
<text x="1103.5" y="1752" font-size="25.22" text-anchor="middle">16</text>
<text x="1208.2" y="1752" font-size="25.22" text-anchor="middle">18</text>
<text x="1314.1" y="1752" font-size="25.22" text-anchor="middle">20</text>
<text x="255.8" y="1730.4" font-size="25.22" text-anchor="end">0</text>
<text x="255.8" y="1642.7" font-size="25.22" text-anchor="end">0.01</text>
<text x="255.8" y="1557.5" font-size="25.22" text-anchor="end">0.02</text>
<text x="255.8" y="1470.2" font-size="25.22" text-anchor="end">0.03</text>
<text x="255.8" y="1384.9" font-size="25.22" text-anchor="end">0.04</text>
<text x="255.8" y="1299.9" font-size="25.22" text-anchor="end">0.05</text>
</g>
<text x="786.5" y="1270" font-size="26.2" text-anchor="middle">FFT Analyses</text>
<text x="785.6" y="1785.2" font-size="25.6" text-anchor="middle">Frequency(Hz)</text>
<text x="184.3" y="1506.75" font-size="25.6" text-anchor="middle" transform="rotate(-90 184.3 1506.75)">Amplitude</text>
<g class="lg">
<rect x="1016.6" y="1305.7" width="285.4" height="229.7" class="lb"/>
<line x1="1032" y1="1326.9" x2="1112" y2="1326.9" stroke="#0000ff" stroke-width="4.3"/>
<text x="1121" y="1337.2" font-size="25.6" text-anchor="start">Ground motion</text>
<line x1="1032" y1="1364.7" x2="1112" y2="1364.7" stroke="#ff0000" stroke-width="4.3"/>
<text x="1121" y="1372.8" font-size="25.6" text-anchor="start">Damping=0.0</text>
<line x1="1032" y1="1400.5" x2="1112" y2="1400.5" stroke="#00ff00" stroke-width="4.3"/>
<text x="1121" y="1410.3" font-size="25.6" text-anchor="start">Damping=0.05</text>
<line x1="1032" y1="1438.2" x2="1112" y2="1438.2" stroke="#ff7a00" stroke-width="4.3"/>
<text x="1121" y="1447" font-size="25.6" text-anchor="start">Damping=0.1</text>
<line x1="1032" y1="1473.8" x2="1112" y2="1473.8" stroke="#00ffff" stroke-width="4.3"/>
<text x="1121" y="1485.2" font-size="25.6" text-anchor="start">Damping=0.15</text>
<line x1="1032" y1="1511.3" x2="1112" y2="1511.3" stroke="#ff00ff" stroke-width="4.3"/>
<text x="1121" y="1520.1" font-size="25.6" text-anchor="start">Damping=0.2</text>
</g>
<g class="ax">
<line x1="403.3" y1="2347.6" x2="403.3" y2="1906" class="g" stroke-dasharray="9.3 8.74" stroke-dashoffset="2"/>
<line x1="538.5" y1="2347.6" x2="538.5" y2="1906" class="g" stroke-dasharray="9.3 8.74" stroke-dashoffset="2"/>
<line x1="673.5" y1="2347.6" x2="673.5" y2="1906" class="g" stroke-dasharray="9.3 8.74" stroke-dashoffset="2"/>
<line x1="808.6" y1="2347.6" x2="808.6" y2="1906" class="g" stroke-dasharray="9.3 8.74" stroke-dashoffset="2"/>
<line x1="943.5" y1="2347.6" x2="943.5" y2="1906" class="g" stroke-dasharray="9.3 8.74" stroke-dashoffset="2"/>
<line x1="1078.7" y1="2347.6" x2="1078.7" y2="1906" class="g" stroke-dasharray="9.3 8.74" stroke-dashoffset="2"/>
<line x1="1214" y1="2347.6" x2="1214" y2="1906" class="g" stroke-dasharray="9.3 8.74" stroke-dashoffset="2"/>
<line x1="270.6" y1="2258.2" x2="1348.6" y2="2258.2" class="g" stroke-dasharray="9.3 8.74" stroke-dashoffset="0"/>
<line x1="270.6" y1="2170.5" x2="1348.6" y2="2170.5" class="g" stroke-dasharray="9.3 8.74" stroke-dashoffset="0"/>
<line x1="270.6" y1="2081" x2="1348.6" y2="2081" class="g" stroke-dasharray="9.3 8.74" stroke-dashoffset="0"/>
<line x1="270.6" y1="1993.3" x2="1348.6" y2="1993.3" class="g" stroke-dasharray="9.3 8.74" stroke-dashoffset="0"/>
</g>
<g class="fr">
<line x1="403.3" y1="2347.6" x2="403.3" y2="2336.8" class="t"/>
<line x1="403.3" y1="1906" x2="403.3" y2="1916.8" class="t"/>
<line x1="538.5" y1="2347.6" x2="538.5" y2="2336.8" class="t"/>
<line x1="538.5" y1="1906" x2="538.5" y2="1916.8" class="t"/>
<line x1="673.5" y1="2347.6" x2="673.5" y2="2336.8" class="t"/>
<line x1="673.5" y1="1906" x2="673.5" y2="1916.8" class="t"/>
<line x1="808.6" y1="2347.6" x2="808.6" y2="2336.8" class="t"/>
<line x1="808.6" y1="1906" x2="808.6" y2="1916.8" class="t"/>
<line x1="943.5" y1="2347.6" x2="943.5" y2="2336.8" class="t"/>
<line x1="943.5" y1="1906" x2="943.5" y2="1916.8" class="t"/>
<line x1="1078.7" y1="2347.6" x2="1078.7" y2="2336.8" class="t"/>
<line x1="1078.7" y1="1906" x2="1078.7" y2="1916.8" class="t"/>
<line x1="1214" y1="2347.6" x2="1214" y2="2336.8" class="t"/>
<line x1="1214" y1="1906" x2="1214" y2="1916.8" class="t"/>
<line x1="270.6" y1="2258.2" x2="281.4" y2="2258.2" class="t"/>
<line x1="1348.6" y1="2258.2" x2="1337.8" y2="2258.2" class="t"/>
<line x1="270.6" y1="2170.5" x2="281.4" y2="2170.5" class="t"/>
<line x1="1348.6" y1="2170.5" x2="1337.8" y2="2170.5" class="t"/>
<line x1="270.6" y1="2081" x2="281.4" y2="2081" class="t"/>
<line x1="1348.6" y1="2081" x2="1337.8" y2="2081" class="t"/>
<line x1="270.6" y1="1993.3" x2="281.4" y2="1993.3" class="t"/>
<line x1="1348.6" y1="1993.3" x2="1337.8" y2="1993.3" class="t"/>
<rect x="270.6" y="1906" width="1078" height="441.6" class="b"/>
</g>
<g class="cv" clip-path="url(#cc)">
<polyline points="270.95,2344.44 284.84,2343.45 290.79,2339.48 294.76,2330.56 296.75,2312.7 299.72,2302.78 301.71,2286.9 303.69,2271.03 305.67,2253.17 306.67,2237.3 307.66,2217.46 308.65,2173.81 312.62,2126.19 315.6,2142.06 317.58,2146.03 318.57,2163.89 322.54,2165.87 324.52,2177.78 326.9,2187.7 329.48,2159.92 332.46,2155.95 333.45,2142.06 338.41,2132.14 340,2098.41 343.37,2088.49 345.36,2068.65 348.33,2064.68 350.32,2084.52 353.29,2082.54 358.25,2088.49 361.23,2076.59 366.19,2076.59 368.17,2058.73 373.13,2064.68 375.12,2060.71 381.07,2068.65 383.06,2044.84 386.03,2042.86 388.02,2026.98 389.01,2010.12 393.97,2010.12 394.96,2025 397.94,2028.97 398.93,2048.81 399.92,2098.41 402.9,2114.29 404.88,2130.16 406.87,2148.02 409.84,2157.94 415.79,2163.89 416.79,2181.75 421.75,2183.73 423.73,2177.78 429.68,2169.84 434.64,2173.81 435.63,2136.11 439.6,2134.13 444.56,2128.17 446.55,2138.1 447.54,2148.02 450.52,2169.84 455.48,2169.84 458.45,2148.02 463.41,2148.02 468.37,2146.03 469.37,2114.29 472.34,2102.38 475.32,2080.56 480.28,2072.62 482.26,2064.68 485.24,2058.73 491.19,2050.79 496.15,2042.86 500.12,2038.89 501.11,2025 503.1,2003.17 507.06,1995.24 508.06,1973.41 511.03,1971.43 513.02,1981.35 515.99,1979.37 517.98,1957.54 520.56,1947.62 522.94,1959.52 524.92,1973.41 527.9,1983.33 529.88,1999.21 531.87,2008.13 533.85,1959.52 536.83,1952.58 538.81,1963.49 539.8,1987.3 541.79,1999.21 544.76,2011.11 546.75,2038.89 548.73,2040.87 550.71,2019.05 553.69,2011.11 555,2009.6 557.98,1987.78 561.94,1977.86 566.9,1972.9 571.87,1978.85 573.85,1989.76 577.82,1999.68 581.79,1998.69 583.77,1986.79 587.74,1992.74 590.71,1999.68 593.69,2011.59 597.66,2019.52 600.63,2028.45 604.6,2023.49 607.58,2031.43 609.56,2045.32 611.55,2059.21 612.54,2062.18 615.52,2051.27 618.49,2047.3 620.48,2029.44 621.47,2005.63 625.44,1999.68 628.41,1991.75 630.4,2001.67 632.38,2015.56 636.35,2025.48 638.33,2037.38 641.31,2036.39 643.29,2011.59 647.26,2008.61 650.24,2011.59 652.22,2027.46 655.2,2039.37 658.17,2036.39 661.15,2025.48 663.13,2014.56 666.11,2012.58 668.1,2025.48 670.08,2041.35 672.06,2044.33 676.03,2040.36 679.01,2035.4 680.99,2015.56 685.95,2011.59 688.93,2013.57 690.91,2033.41 693.89,2034.4 696.87,2023.49 700.83,2013.57 702.82,2001.67 706.79,2007.62 708.77,2019.52 712.74,2018.53 717.7,2023.49 721.67,2027.46 724.64,2032.42 729.6,2033.41 733.57,2025.48 737.54,2019.52 740.52,2013.57 743.49,2023.49 745.48,2035.4 748.45,2029.44 752.42,2021.51 755.4,2011.59 757.38,1999.68 759.37,2011.59 761.35,2032.42 765.32,2029.44 768.29,2031.43 771.27,2019.52 774.25,2017.54 777.22,2033.41 779.21,2035.4 781.19,2019.52 784.17,2007.62 788.13,1999.68 791.11,2005.63 795.08,2010.6 800.04,2013.57 804.01,2006.63 807.98,2008.61 812.94,2011.59 816.9,2015.56 820.87,2009.6 824.84,2019.52 827.22,2024.48 829.8,2015.56 834.76,2008.61 839.72,2005.63 844.68,2006.63 845,2008.61 849.96,2007.62 854.92,2004.64 858.89,1997.7 861.87,2000.67 863.85,2012.58 867.82,2011.59 870.79,2010.6 873.77,2004.64 878.73,2001.67 883.69,2000.67 887.66,1999.68 891.63,2002.66 896.59,2004.64 901.55,2002.66 906.51,2004.64 910.48,2009.6 912.46,2015.56 915.44,2008.61 919.4,2005.63 923.37,2006.63 926.35,2011.59 929.33,2015.56 933.29,2011.59 937.26,2013.57 940.24,2021.51 943.21,2014.56 947.18,2012.58 951.15,2015.56 954.13,2021.51 957.1,2025.48 960.08,2019.52 964.05,2013.57 968.02,2008.61 971.98,2007.62 974.96,2011.59 976.94,2017.54 981.9,2017.54 984.88,2011.59 987.86,2009.6 991.83,2013.57 994.8,2017.54 998.77,2019.52 1001.75,2014.56 1004.72,2011.59 1008.69,2014.56 1012.66,2017.54 1015.63,2022.5 1018.61,2017.54 1022.58,2015.56 1026.55,2020.52 1029.52,2026.47 1032.5,2028.45 1035.48,2020.52 1038.45,2018.53 1041.43,2023.49 1044.4,2025.48 1048.37,2023.49 1051.35,2019.52 1054.33,2018.53 1057.3,2024.48 1060.28,2027.46 1063.25,2023.49 1066.23,2027.46 1069.21,2032.42 1073.17,2027.46 1076.15,2023.49 1079.13,2018.53 1082.1,2023.49 1084.09,2035.4 1087.06,2032.42 1090.04,2027.46 1095,2027.46 1098.97,2030.44 1102.94,2033.41 1106.9,2035.4 1110.87,2035.4 1130,2034 1200,2032 1348.6,2032" stroke="#0000ff" stroke-width="7.4"/>
<polyline points="270.95,2344.44 284.84,2343.45 290.79,2339.48 294.76,2330.56 296.75,2312.7 299.72,2302.78 301.71,2286.9 303.69,2271.03 305.67,2253.17 306.67,2237.3 307.66,2217.46 309.05,2177.78 311.63,2177.78 314.6,2181.75 317.58,2187.7 320.56,2195.63 324.52,2203.57 327.5,2206.55 330.48,2197.62 333.45,2187.7 339.4,2181.75 340.4,2167.86 346.35,2157.94 350.32,2164.88 356.27,2165.87 362.22,2162.9 368.17,2159.92 374.13,2158.93 380.08,2159.92 384.05,2156.94 390,2150.4 394.96,2152.98 399.92,2157.94 405.87,2156.94 410.83,2153.97 415.79,2150.99 420.75,2148.02 425.71,2147.02 429.68,2143.06 433.65,2137.1 439.6,2134.13 444.56,2132.14 450.52,2135.12 458.45,2135.12 463.41,2137.1 469.37,2136.11 472.34,2133.13 477.3,2134.13 483.25,2131.15 489.21,2129.76 495.16,2129.17 500.12,2127.18 505.08,2121.23 509.05,2119.25 514.01,2119.25 518.97,2115.28 523.93,2117.26 528.89,2119.25 533.85,2116.27 538.81,2112.3 543.77,2111.31 548.73,2115.28 554.68,2114.68 555,2116.75 564.92,2114.76 574.84,2113.77 584.76,2114.37 594.68,2112.78 608.57,2112.38 612.54,2111.19 618.49,2111.19 622.46,2113.17 672.06,2113.17 678.02,2111.19 683.97,2113.17 691.9,2113.17 697.86,2111.79 705.79,2113.17 719.68,2113.17 723.65,2111.79 855,2111.79 1348.6,2111.8" stroke="#0000ff" stroke-width="4.4"/>
<polyline points="270.95,2344.44 284.84,2343.45 290.79,2339.48 294.76,2330.56 296.75,2312.7 299.72,2302.78 301.71,2286.9 303.69,2271.03 305.67,2253.17 306.67,2237.3 307.26,2193.65 309.64,2201.59 313.61,2209.52 318.57,2217.46 324.52,2222.42 327.5,2222.42 332.46,2215.48 338.41,2207.54 344.37,2198.61 350.32,2200.6 358.25,2201.59 366.19,2199.6 373.13,2197.62 379.09,2196.63 386.03,2195.63 393.97,2195.63 399.92,2192.66 405.87,2186.71 411.83,2184.72 417.78,2181.75 423.73,2177.78 429.68,2174.8 435.63,2171.83 443.57,2169.84 451.51,2169.44 461.43,2170.24 469.37,2168.85 475.32,2164.88 483.25,2163.89 491.19,2161.9 499.13,2158.93 507.06,2153.97 515,2152.98 522.94,2152.98 530.87,2151.98 538.81,2149.01 544.76,2147.02 550.71,2150.4 555,2150.48 574.84,2150.08 594.68,2147.5 610.56,2146.11 618.49,2144.52 634.37,2146.11 753.41,2146.11 773.25,2144.52 855,2144.52 1348.6,2144.5" stroke="#0000ff" stroke-width="7.4" stroke-dasharray="19.5 5.3" stroke-dashoffset="-6"/>
<polyline points="270.95,2344.44 284.84,2343.45 290.79,2339.48 294.76,2330.56 296.75,2312.7 299.72,2302.78 301.71,2286.9 303.69,2271.03 305.67,2253.17 307.06,2209.52 309.64,2217.46 313.61,2226.39 318.57,2232.34 324.52,2235.32 330.48,2231.35 336.43,2225.4 342.38,2220.44 348.33,2219.84 356.27,2221.03 364.21,2220.44 372.14,2219.84 380.08,2219.05 388.02,2216.47 393.97,2215.48 399.92,2211.51 405.87,2206.55 411.83,2203.57 417.78,2201.59 423.73,2197.62 429.68,2194.64 435.63,2191.67 443.57,2190.67 453.49,2191.27 463.41,2190.67 471.35,2188.69 479.29,2186.71 487.22,2184.72 495.16,2183.73 503.1,2181.75 511.03,2177.78 518.97,2178.77 526.9,2179.37 534.84,2176.79 542.78,2173.81 550.71,2174.8 555,2174.29 590.71,2173.89 604.6,2171.31 674.05,2170.32 683.97,2168.73 855,2168.73 1348.6,2168.7" stroke="#0000ff" stroke-width="4.8" stroke-dasharray="12.3 6.5" stroke-dashoffset="-4"/>
<polyline points="316.59,2247.22 329.48,2246.83 338.41,2240.28 344.37,2236.31 350.32,2235.32 359.25,2234.33" stroke="#0000ff" stroke-width="3.3"/>
<polyline points="377.1,2234.33 382.06,2233.33 388.02,2230.36 393.97,2232.34 401.9,2225.4 407.86,2219.84 413.81,2218.45" stroke="#0000ff" stroke-width="3.3"/>
<polyline points="429.68,2211.51 434.64,2207.94 443.57,2207.54 455.48,2207.54 465.4,2207.54 469.37,2205.56 473.33,2203.57 479.29,2203.17" stroke="#0000ff" stroke-width="3.3"/>
<polyline points="498.13,2201.59 503.1,2199.6 509.05,2197.62 516.98,2196.63 522.94,2197.62 530.87,2195.63 536.83,2193.65 542.78,2191.67 548.73,2192.66 557.66,2190.67" stroke="#0000ff" stroke-width="3.3"/>
<polyline points="575.83,2191.15 607.58,2190.16 612.54,2188.17 618.49,2187.78 622.46,2189.76 626.43,2189.17" stroke="#0000ff" stroke-width="3.3"/>
<polyline points="645.28,2187.18 697.86,2187.18" stroke="#0000ff" stroke-width="3.3"/>
<polyline points="717.7,2187.18 753.41,2186.59 757.38,2185.2 822.86,2185.2" stroke="#0000ff" stroke-width="3.3"/>
<polyline points="841.71,2185.2 855,2185.2 845,2185.2 896.59,2185.2" stroke="#0000ff" stroke-width="3.3"/>
<polyline points="914.44,2185.2 968.02,2185.2" stroke="#0000ff" stroke-width="3.3"/>
<polyline points="986.87,2185.2 1083.1,2185.2" stroke="#0000ff" stroke-width="3.3"/>
<polyline points="1101.94,2185.2 1122.78,2185.2" stroke="#0000ff" stroke-width="3.3"/>
<polyline points="1338,2185.2 1344.5,2185.2" stroke="#0000ff" stroke-width="3.3"/>
<polyline points="270.95,2345.98 294.76,2345.98 298.73,2345.72 301.71,2345.77 305.67,2345.63 308.65,2345.8 314.6,2345.77 318.57,2345.74 324.52,2345.8 329.48,2345.69 334.44,2345.8 339.4,2345.72 342.38,2345.6 346.35,2345.74 354.29,2345.74 364.21,2345.74 372.14,2345.69 380.08,2345.69 384.05,2345.72 391.98,2345.63 395.95,2345.66 401.9,2345.57 405.87,2345.66 413.81,2345.66 419.76,2345.6 425.71,2345.63 433.65,2345.6 439.6,2345.51 447.54,2345.51 451.51,2345.39 455.48,2345.36 461.43,2345.42 469.37,2345.42 475.32,2345.39 483.25,2345.42 493.17,2345.42 503.1,2345.36 511.03,2345.36 516.98,2345.27 521.94,2345.15 526.9,2345.27 532.86,2345.27 536.83,2345 540.79,2344.85 544.76,2345 548.73,2345.15 554.68,2345.18 555,2345.34 574.84,2345.28 594.68,2345.25 608.57,2345.22 612.54,2345.07 618.49,2345.1 622.46,2345.19 634.37,2345.18 654.21,2345.16 666.11,2345.1 674.05,2345.07 683.97,2345.1 693.89,2345.03 713.73,2345.05 753.41,2345.05 763.33,2345 781.19,2345 785.16,2344.96 789.13,2345.03 842.7,2345.03 848.65,2344.97 845,2344.97 854.92,2344.99 858.89,2345.05 862.86,2344.97 1063.25,2344.97 1069.21,2344.91 1075.16,2344.91 1079.13,2344.99 1085.08,2344.93 1122.78,2344.91 1348.6,2344.92" stroke="#ff0000" stroke-width="5"/>
<polyline points="270.95,2345.85 294.76,2345.85 298.73,2343.44 301.71,2343.97 305.67,2342.63 308.65,2344.24 314.6,2343.97 318.57,2343.7 324.52,2344.24 329.48,2343.17 334.44,2344.24 339.4,2343.44 342.38,2342.37 346.35,2343.7 354.29,2343.7 364.21,2343.7 372.14,2343.17 380.08,2343.17 384.05,2343.44 391.98,2342.63 395.95,2342.9 401.9,2342.1 405.87,2342.9 413.81,2342.9 419.76,2342.37 425.71,2342.63 433.65,2342.37 439.6,2341.56 447.54,2341.56 451.51,2340.49 455.48,2340.22 461.43,2340.76 469.37,2340.76 475.32,2340.49 483.25,2340.76 493.17,2340.76 503.1,2340.22 511.03,2340.22 516.98,2339.42 521.94,2338.35 526.9,2339.42 532.86,2339.42 536.83,2337.01 540.79,2335.67 544.76,2337.01 548.73,2338.35 554.68,2338.62 555,2340.08 574.84,2339.55 594.68,2339.28 608.57,2339.01 612.54,2337.67 618.49,2337.94 622.46,2338.74 634.37,2338.64 654.21,2338.48 666.11,2337.94 674.05,2337.67 683.97,2337.94 693.89,2337.24 713.73,2337.4 753.41,2337.4 763.33,2337.03 781.19,2337.03 785.16,2336.6 789.13,2337.24 842.7,2337.24 848.65,2336.71 845,2336.71 854.92,2336.87 858.89,2337.4 862.86,2336.71 1063.25,2336.71 1069.21,2336.17 1075.16,2336.17 1079.13,2336.87 1085.08,2336.33 1122.78,2336.17 1348.6,2336.28" stroke="#00ff00" stroke-width="5"/>
<polyline points="270.95,2345.7 294.76,2345.7 298.73,2340.97 301.71,2342.02 305.67,2339.39 308.65,2342.55 314.6,2342.02 318.57,2341.49 324.52,2342.55 329.48,2340.44 334.44,2342.55 339.4,2340.97 342.38,2338.87 346.35,2341.49 354.29,2341.49 364.21,2341.49 372.14,2340.44 380.08,2340.44 384.05,2340.97 391.98,2339.39 395.95,2339.92 401.9,2338.34 405.87,2339.92 413.81,2339.92 419.76,2338.87 425.71,2339.39 433.65,2338.87 439.6,2337.29 447.54,2337.29 451.51,2335.19 455.48,2334.66 461.43,2335.71 469.37,2335.71 475.32,2335.19 483.25,2335.71 493.17,2335.71 503.1,2334.66 511.03,2334.66 516.98,2333.08 521.94,2330.98 526.9,2333.08 532.86,2333.08 536.83,2328.35 540.79,2325.72 544.76,2328.35 548.73,2330.98 554.68,2331.5 555,2334.39 574.84,2333.33 594.68,2332.81 608.57,2332.28 612.54,2329.65 618.49,2330.18 622.46,2331.76 634.37,2331.55 654.21,2331.23 666.11,2330.18 674.05,2329.65 683.97,2330.18 693.89,2328.81 713.73,2329.13 753.41,2329.13 763.33,2328.39 781.19,2328.39 785.16,2327.55 789.13,2328.81 842.7,2328.81 848.65,2327.76 845,2327.76 854.92,2328.08 858.89,2329.13 862.86,2327.76 1063.25,2327.76 1069.21,2326.71 1075.16,2326.71 1079.13,2328.08 1085.08,2327.03 1122.78,2326.71 1348.6,2326.92" stroke="#ff7a00" stroke-width="5"/>
<polyline points="270.95,2345.55 294.76,2345.55 298.73,2338.41 301.71,2339.99 305.67,2336.03 308.65,2340.79 314.6,2339.99 318.57,2339.2 324.52,2340.79 329.48,2337.61 334.44,2340.79 339.4,2338.41 342.38,2335.23 346.35,2339.2 354.29,2339.2 364.21,2339.2 372.14,2337.61 380.08,2337.61 384.05,2338.41 391.98,2336.03 395.95,2336.82 401.9,2334.44 405.87,2336.82 413.81,2336.82 419.76,2335.23 425.71,2336.03 433.65,2335.23 439.6,2332.85 447.54,2332.85 451.51,2329.68 455.48,2328.88 461.43,2330.47 469.37,2330.47 475.32,2329.68 483.25,2330.47 493.17,2330.47 503.1,2328.88 511.03,2328.88 516.98,2326.5 521.94,2323.33 526.9,2326.5 532.86,2326.5 536.83,2319.36 540.79,2315.39 544.76,2319.36 548.73,2323.33 554.68,2324.12 555,2328.47 574.84,2326.88 594.68,2326.09 608.57,2325.3 612.54,2321.33 618.49,2322.12 622.46,2324.5 634.37,2324.18 654.21,2323.71 666.11,2322.12 674.05,2321.33 683.97,2322.12 693.89,2320.06 713.73,2320.53 753.41,2320.53 763.33,2319.42 781.19,2319.42 785.16,2318.15 789.13,2320.06 842.7,2320.06 848.65,2318.47 845,2318.47 854.92,2318.95 858.89,2320.53 862.86,2318.47 1063.25,2318.47 1069.21,2316.88 1075.16,2316.88 1079.13,2318.95 1085.08,2317.36 1122.78,2316.88 1348.6,2317.2" stroke="#00ffff" stroke-width="5"/>
<polyline points="270.95,2345.44 294.76,2345.44 298.73,2336.51 301.71,2338.49 305.67,2333.53 308.65,2339.48 314.6,2338.49 318.57,2337.5 324.52,2339.48 329.48,2335.52 334.44,2339.48 339.4,2336.51 342.38,2332.54 346.35,2337.5 354.29,2337.5 364.21,2337.5 372.14,2335.52 380.08,2335.52 384.05,2336.51 391.98,2333.53 395.95,2334.52 401.9,2331.55 405.87,2334.52 413.81,2334.52 419.76,2332.54 425.71,2333.53 433.65,2332.54 439.6,2329.56 447.54,2329.56 451.51,2325.6 455.48,2324.6 461.43,2326.59 469.37,2326.59 475.32,2325.6 483.25,2326.59 493.17,2326.59 503.1,2324.6 511.03,2324.6 516.98,2321.63 521.94,2317.66 526.9,2321.63 532.86,2321.63 536.83,2312.7 540.79,2307.74 544.76,2312.7 548.73,2317.66 554.68,2318.65 555,2324.09 574.84,2322.1 594.68,2321.11 608.57,2320.12 612.54,2315.16 618.49,2316.15 622.46,2319.13 634.37,2318.73 654.21,2318.13 666.11,2316.15 674.05,2315.16 683.97,2316.15 693.89,2313.57 713.73,2314.17 753.41,2314.17 763.33,2312.78 781.19,2312.78 785.16,2311.19 789.13,2313.57 842.7,2313.57 848.65,2311.59 845,2311.59 854.92,2312.18 858.89,2314.17 862.86,2311.59 1063.25,2311.59 1069.21,2309.6 1075.16,2309.6 1079.13,2312.18 1085.08,2310.2 1122.78,2309.6 1348.6,2310" stroke="#ff00ff" stroke-width="5"/>
</g>
<g class="tl">
<text x="270.6" y="2377" font-size="25.22" text-anchor="middle">0</text>
<text x="403.3" y="2377" font-size="25.22" text-anchor="middle">5</text>
<text x="538.5" y="2377" font-size="25.22" text-anchor="middle">10</text>
<text x="673.5" y="2377" font-size="25.22" text-anchor="middle">15</text>
<text x="808.6" y="2377" font-size="25.22" text-anchor="middle">20</text>
<text x="943.5" y="2377" font-size="25.22" text-anchor="middle">25</text>
<text x="1078.7" y="2377" font-size="25.22" text-anchor="middle">30</text>
<text x="1214" y="2377" font-size="25.22" text-anchor="middle">35</text>
<text x="1348.6" y="2377" font-size="25.22" text-anchor="middle">40</text>
<text x="261.6" y="2356" font-size="25.22" text-anchor="end">0</text>
<text x="261.6" y="2266.6" font-size="25.22" text-anchor="end">0.05</text>
<text x="261.6" y="2178.9" font-size="25.22" text-anchor="end">0.1</text>
<text x="261.6" y="2089.4" font-size="25.22" text-anchor="end">0.15</text>
<text x="261.6" y="2001.7" font-size="25.22" text-anchor="end">0.2</text>
<text x="261.6" y="1914.4" font-size="25.22" text-anchor="end">0.25</text>
</g>
<text x="807.1" y="1883.2" font-size="26" text-anchor="middle">Input Energy</text>
<text x="806.6" y="2413" font-size="25.6" text-anchor="middle">time</text>
<text x="188.7" y="2126.8" font-size="25.6" text-anchor="middle" transform="rotate(-90 188.7 2126.8)">Ei</text>
<g class="lg">
<rect x="1112" y="1920.2" width="224.5" height="388.4" class="lb"/>
<line x1="1128" y1="1942.7" x2="1209.5" y2="1942.7" stroke="#0000ff" stroke-width="7.4"/>
<text x="1219" y="1953.2" font-size="26.4" text-anchor="start">Ei-f 0</text>
<line x1="1128" y1="1981.3" x2="1209.5" y2="1981.3" stroke="#ff0000" stroke-width="4.3"/>
<text x="1219" y="1990.3" font-size="26.4" text-anchor="start">Ei-n 0</text>
<line x1="1128" y1="2018.5" x2="1209.5" y2="2018.5" stroke="#0000ff" stroke-width="4.3"/>
<text x="1219" y="2028" font-size="26.4" text-anchor="start">Ei-f 0.5</text>
<line x1="1128" y1="2056.7" x2="1209.5" y2="2056.7" stroke="#00ff00" stroke-width="4.3"/>
<text x="1219" y="2066.7" font-size="26.4" text-anchor="start">Ei-n 0.5</text>
<line x1="1128" y1="2095.4" x2="1209.5" y2="2095.4" stroke="#0000ff" stroke-width="7.4" stroke-dasharray="18.7 5.5"/>
<text x="1219" y="2104.8" font-size="26.4" text-anchor="start">Ei-f 0.1</text>
<line x1="1128" y1="2132.1" x2="1209.5" y2="2132.1" stroke="#ff7a00" stroke-width="4.3"/>
<text x="1219" y="2142.5" font-size="26.4" text-anchor="start">Ei-n 0.1</text>
<line x1="1128" y1="2170.2" x2="1209.5" y2="2170.2" stroke="#0000ff" stroke-width="5" stroke-dasharray="12.3 5"/>
<text x="1219" y="2180.8" font-size="26.4" text-anchor="start">Ei-f 0.15</text>
<line x1="1128" y1="2209.5" x2="1209.5" y2="2209.5" stroke="#00ffff" stroke-width="4.3"/>
<text x="1219" y="2219.4" font-size="26.4" text-anchor="start">Ei-n 0.15</text>
<line x1="1128" y1="2246.2" x2="1209.5" y2="2246.2" stroke="#0000ff" stroke-width="3.4" stroke-dasharray="53.5 18"/>
<text x="1219" y="2257.1" font-size="26.4" text-anchor="start">Ei-f 0.2</text>
<line x1="1128" y1="2284.9" x2="1209.5" y2="2284.9" stroke="#ff00ff" stroke-width="4.3"/>
<text x="1219" y="2294.8" font-size="26.4" text-anchor="start">Ei-n 0.2</text>
</g>
<text x="767" y="1230" font-size="39" text-anchor="middle" class="sf">a)</text>
<text x="767.5" y="1844.3" font-size="39" text-anchor="middle" class="sf">b)</text>
<text x="767" y="2471" font-size="39" text-anchor="middle" class="sf">c)</text>
</svg>
</body>
</html>
